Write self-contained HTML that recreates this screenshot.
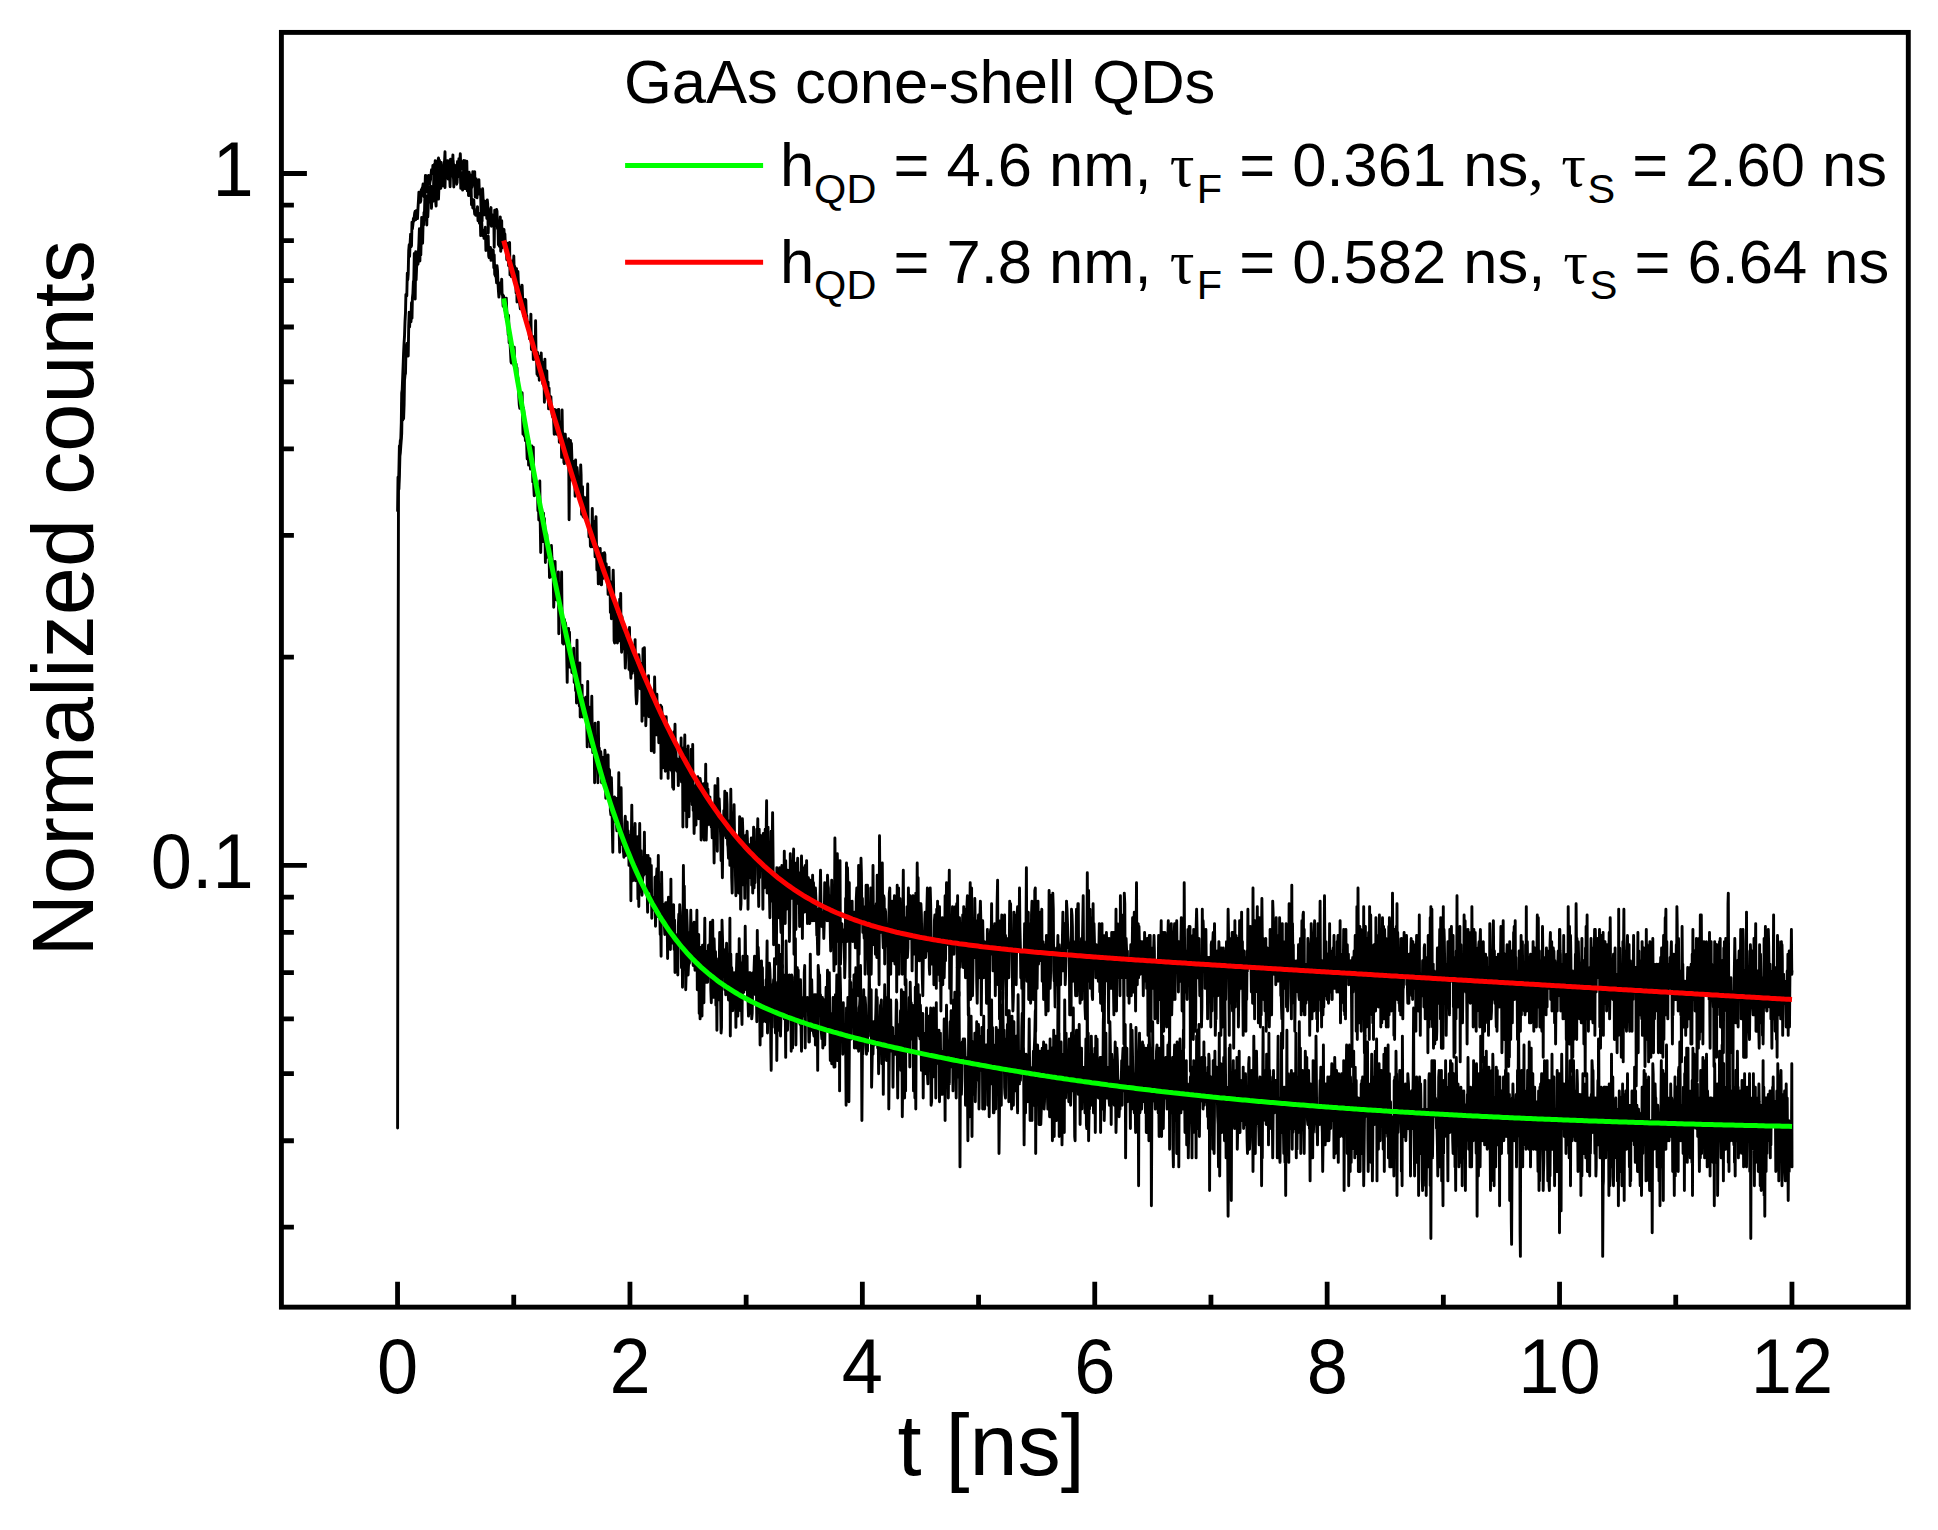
<!DOCTYPE html>
<html lang="en"><head><meta charset="utf-8"><title>GaAs cone-shell QDs decay</title>
<style>html,body{margin:0;padding:0;background:#fff}svg{display:block}text{font-family:"Liberation Sans",Arial,sans-serif;fill:#000}.ser{font-family:"Liberation Serif","Times New Roman",serif}</style></head><body>
<svg width="1938" height="1530" viewBox="0 0 1938 1530">
<rect width="1938" height="1530" fill="#fff"/>
<path d="M397.6,510.7 398.0,477.2 398.5,479.2 398.9,489.3 399.4,475.9 399.9,456.1 400.3,453.1 400.8,445.8 401.3,439.4 401.7,433.6 402.2,402.7 402.7,420.2 403.1,407.9 403.6,418.6 404.1,404.8 404.5,380.3 405.0,375.1 405.5,373.3 405.9,353.4 406.4,345.2 406.8,343.5 407.3,343.5 407.8,343.5 408.2,356.0 408.7,326.6 409.2,312.1 409.6,327.0 410.1,316.0 410.6,317.5 411.0,321.8 411.5,302.8 412.0,318.3 412.4,298.0 412.9,293.3 413.4,281.4 413.8,281.4 414.3,253.4 414.7,271.2 415.2,299.1 415.7,251.6 416.1,280.0 416.6,267.6 417.1,262.0 417.5,255.0 418.0,264.3 418.5,250.9 418.9,243.3 419.4,228.8 419.9,261.1 420.3,236.7 420.8,255.0 421.3,234.9 421.7,217.4 422.2,221.1 422.6,243.3 423.1,222.5 423.6,225.0 424.0,212.5 424.5,211.6 425.0,192.1 425.4,204.4 425.9,209.2 426.4,211.9 426.8,225.0 427.3,196.0 427.8,216.9 428.2,207.6 428.7,186.8 429.2,200.1 429.6,197.3 430.1,202.0 430.6,196.7 431.0,186.3 431.5,208.4 431.9,195.2 432.4,190.3 432.9,201.4 433.3,199.6 433.8,173.7 434.3,192.1 434.7,191.6 435.2,184.5 435.7,202.2 436.1,206.0 436.6,164.7 437.1,178.8 437.5,172.1 438.0,179.1 438.5,199.1 438.9,188.0 439.4,169.4 439.8,181.5 440.3,188.5 440.8,188.3 441.2,175.7 441.7,173.5 442.2,183.0 442.6,185.8 443.1,177.4 443.6,172.5 444.0,181.5 444.5,183.3 445.0,187.5 445.4,173.0 445.9,171.8 446.4,168.0 446.8,175.2 447.3,168.3 447.7,176.9 448.2,179.1 448.7,161.0 449.1,175.2 449.6,175.2 450.1,186.8 450.5,173.0 451.0,162.4 451.5,173.3 451.9,161.7 452.4,164.3 452.9,160.6 453.3,171.3 453.8,187.0 454.3,173.7 454.7,174.7 455.2,172.1 455.7,179.6 456.1,168.5 456.6,170.9 457.0,183.0 457.5,161.5 458.0,168.0 458.4,176.6 458.9,158.7 459.4,170.2 459.8,161.7 460.3,153.7 460.8,168.0 461.2,166.6 461.7,169.0 462.2,166.8 462.6,168.7 463.1,161.5 463.6,160.6 464.0,172.8 464.5,188.5 464.9,160.8 465.4,167.3 465.9,168.0 466.3,164.5 466.8,161.3 467.3,187.8 467.7,187.3 468.2,177.4 468.7,195.4 469.1,172.3 469.6,174.7 470.1,183.3 470.5,175.9 471.0,188.5 471.5,174.9 471.9,187.0 472.4,183.0 472.8,171.8 473.3,175.4 473.8,181.0 474.2,178.8 474.7,171.6 475.2,197.0 475.6,196.2 476.1,178.8 476.6,183.5 477.0,197.8 477.5,189.3 478.0,191.1 478.4,182.3 478.9,179.6 479.4,194.1 479.8,189.3 480.3,191.6 480.7,195.7 481.2,218.3 481.7,192.6 482.1,221.1 482.6,188.8 483.1,198.6 483.5,208.7 484.0,211.4 484.5,214.9 484.9,201.2 485.4,214.9 485.9,210.0 486.3,206.0 486.8,218.5 487.3,199.9 487.7,203.6 488.2,233.1 488.7,214.4 489.1,214.4 489.6,223.9 490.0,216.9 490.5,209.5 491.0,207.6 491.4,226.2 491.9,215.5 492.4,214.9 492.8,218.0 493.3,215.2 493.8,217.4 494.2,247.2 494.7,210.3 495.2,226.5 495.6,225.6 496.1,213.0 496.6,209.5 497.0,211.1 497.5,228.8 497.9,221.3 498.4,244.8 498.9,235.5 499.3,246.3 499.8,227.6 500.3,216.9 500.7,251.3 501.2,246.6 501.7,220.8 502.1,247.9 502.6,235.5 503.1,240.6 503.5,229.3 504.0,229.6 504.5,244.5 504.9,234.0 505.4,246.0 505.8,243.0 506.3,247.2 506.8,259.8 507.2,243.3 507.7,246.0 508.2,244.8 508.6,265.6 509.1,255.0 509.6,242.4 510.0,274.9 510.5,274.9 511.0,265.6 511.4,276.6 511.9,261.1 512.4,270.5 512.8,274.2 513.3,268.2 513.8,256.0 514.2,270.9 514.7,266.3 515.1,270.5 515.6,275.9 516.1,292.9 516.5,268.6 517.0,302.0 517.5,299.5 517.9,271.5 518.4,283.4 518.9,284.5 519.3,299.5 519.8,304.6 520.3,308.7 520.7,287.3 521.2,298.0 521.7,291.9 522.1,285.2 522.6,297.3 523.0,302.4 523.5,315.6 524.0,301.3 524.4,299.8 524.9,301.7 525.4,299.5 525.8,300.2 526.3,315.6 526.8,315.6 527.2,326.2 527.7,323.8 528.2,323.8 528.6,322.6 529.1,333.5 529.6,338.8 530.0,329.8 530.5,327.4 530.9,314.1 531.4,349.5 531.9,336.8 532.3,343.0 532.8,336.4 533.3,359.5 533.7,357.3 534.2,343.5 534.7,345.2 535.1,358.7 535.6,320.7 536.1,360.4 536.5,356.0 537.0,374.2 537.5,352.5 537.9,375.6 538.4,356.0 538.8,369.5 539.3,380.3 539.8,361.8 540.2,372.8 540.7,362.7 541.2,352.9 541.6,365.0 542.1,361.8 542.6,382.7 543.0,384.2 543.5,385.2 544.0,374.2 544.4,402.2 544.9,359.1 545.4,388.6 545.8,391.1 546.3,394.0 546.8,370.9 547.2,386.1 547.7,382.3 548.1,382.3 548.6,408.9 549.1,388.1 549.5,407.9 550.0,401.1 550.5,407.4 550.9,396.6 551.4,410.5 551.9,411.0 552.3,415.3 552.8,417.5 553.3,411.0 553.7,421.8 554.2,434.2 554.7,409.5 555.1,412.6 555.6,420.7 556.0,416.9 556.5,434.2 557.0,423.5 557.4,410.0 557.9,425.2 558.4,434.7 558.8,409.5 559.3,442.3 559.8,428.5 560.2,424.6 560.7,423.5 561.2,421.8 561.6,457.4 562.1,410.0 562.6,444.1 563.0,433.0 563.5,443.5 563.9,462.4 564.4,463.6 564.9,435.3 565.3,434.2 565.8,444.1 566.3,452.5 566.7,447.0 567.2,453.7 567.7,456.1 568.1,443.5 568.6,438.8 569.1,519.7 569.5,476.5 570.0,471.3 570.5,440.5 570.9,479.2 571.4,443.5 571.9,458.6 572.3,475.9 572.8,473.2 573.2,481.8 573.7,477.2 574.2,473.9 574.6,461.1 575.1,496.3 575.6,459.9 576.0,485.9 576.5,476.5 577.0,467.4 577.4,471.3 577.9,486.6 578.4,481.2 578.8,494.2 579.3,479.2 579.8,493.5 580.2,492.1 580.7,464.9 581.1,474.5 581.6,514.4 582.1,510.7 582.5,486.6 583.0,516.6 583.5,497.0 583.9,517.4 584.4,504.8 584.9,507.0 585.3,497.7 585.8,512.9 586.3,500.5 586.7,497.7 587.2,512.9 587.7,483.9 588.1,522.0 588.6,524.3 589.0,536.9 589.5,530.5 590.0,528.9 590.4,545.9 590.9,546.7 591.4,536.1 591.8,536.9 592.3,508.5 592.8,546.7 593.2,521.2 593.7,528.2 594.2,539.3 594.6,543.4 595.1,556.9 595.6,524.3 596.0,516.6 596.5,545.9 596.9,570.1 597.4,546.7 597.9,560.3 598.3,583.9 598.8,571.9 599.3,563.8 599.7,568.3 600.2,548.4 600.7,571.9 601.1,584.8 601.6,584.8 602.1,556.0 602.5,562.1 603.0,553.4 603.5,578.3 603.9,556.9 604.4,552.6 604.9,554.3 605.3,573.7 605.8,567.4 606.2,563.8 606.7,580.1 607.2,570.1 607.6,575.5 608.1,594.4 608.6,592.5 609.0,567.4 609.5,586.7 610.0,581.1 610.4,612.5 610.9,590.5 611.4,618.8 611.8,604.3 612.3,608.4 612.8,585.8 613.2,570.1 613.7,591.5 614.1,640.7 614.6,643.0 615.1,606.4 615.5,632.9 616.0,625.2 616.5,613.6 616.9,614.6 617.4,643.0 617.9,627.4 618.3,622.0 618.8,630.7 619.3,640.7 619.7,599.3 620.2,620.9 620.7,593.4 621.1,635.1 621.6,652.3 622.0,616.7 622.5,629.6 623.0,648.8 623.4,645.3 623.9,624.1 624.4,632.9 624.8,650.0 625.3,668.1 625.8,657.1 626.2,638.5 626.7,652.3 627.2,648.8 627.6,634.0 628.1,634.0 628.6,637.3 629.0,669.4 629.5,627.4 630.0,670.6 630.4,668.1 630.9,678.3 631.3,654.7 631.8,662.0 632.3,673.2 632.7,647.7 633.2,645.3 633.7,665.7 634.1,670.6 634.6,665.7 635.1,639.6 635.5,674.4 636.0,695.5 636.5,703.8 636.9,701.0 637.4,686.1 637.9,677.0 638.3,664.4 638.8,654.7 639.2,658.3 639.7,669.4 640.2,688.8 640.6,664.4 641.1,686.1 641.6,663.2 642.0,721.2 642.5,698.3 643.0,648.8 643.4,675.7 643.9,715.3 644.4,647.7 644.8,682.2 645.3,679.6 645.8,725.7 646.2,710.9 646.7,712.4 647.1,703.8 647.6,691.5 648.1,698.3 648.5,675.7 649.0,716.7 649.5,703.8 649.9,688.8 650.4,708.1 650.9,694.2 651.3,750.9 651.8,712.4 652.3,725.7 652.7,721.2 653.2,699.7 653.7,708.1 654.1,752.5 654.6,677.0 655.0,696.9 655.5,730.2 656.0,706.7 656.4,734.9 656.9,694.2 657.4,722.7 657.8,725.7 658.3,721.2 658.8,742.8 659.2,713.8 659.7,741.2 660.2,710.9 660.6,705.2 661.1,778.4 661.6,706.7 662.0,712.4 662.5,744.4 663.0,767.7 663.4,747.6 663.9,741.2 664.3,725.7 664.8,716.7 665.3,771.2 665.7,738.0 666.2,716.7 666.7,736.4 667.1,734.9 667.6,730.2 668.1,778.4 668.5,736.4 669.0,754.2 669.5,731.8 669.9,747.6 670.4,769.5 670.9,731.8 671.3,752.5 671.8,771.2 672.2,755.8 672.7,787.5 673.2,744.4 673.6,789.3 674.1,731.8 674.6,754.2 675.0,724.2 675.5,757.5 676.0,752.5 676.4,769.5 676.9,771.2 677.4,767.7 677.8,759.2 678.3,785.6 678.8,771.2 679.2,778.4 679.7,766.0 680.1,750.9 680.6,767.7 681.1,738.0 681.5,782.0 682.0,778.4 682.5,749.2 682.9,827.1 683.4,752.5 683.9,747.6 684.3,762.6 684.8,734.9 685.3,810.6 685.7,774.8 686.2,749.2 686.7,827.1 687.1,795.0 687.6,780.2 688.1,746.0 688.5,800.8 689.0,816.7 689.4,780.2 689.9,769.5 690.4,774.8 690.8,800.8 691.3,749.2 691.8,767.7 692.2,804.7 692.7,744.4 693.2,810.6 693.6,795.0 694.1,833.5 694.6,812.6 695.0,791.2 695.5,785.6 696.0,825.0 696.4,778.4 696.9,778.4 697.3,789.3 697.8,776.6 698.3,785.6 698.7,818.7 699.2,789.3 699.7,812.6 700.1,778.4 700.6,782.0 701.1,840.1 701.5,831.3 702.0,798.8 702.5,789.3 702.9,835.7 703.4,783.8 703.9,835.7 704.3,840.1 704.8,829.2 705.2,812.6 705.7,764.3 706.2,840.1 706.6,822.9 707.1,783.8 707.6,825.0 708.0,789.3 708.5,818.7 709.0,810.6 709.4,812.6 709.9,796.9 710.4,825.0 710.8,802.7 711.3,827.1 711.8,825.0 712.2,837.9 712.7,806.6 713.1,822.9 713.6,818.7 714.1,863.0 714.5,827.1 715.0,785.6 715.5,808.6 715.9,840.1 716.4,804.7 716.9,820.8 717.3,851.3 717.8,778.4 718.3,814.6 718.7,808.6 719.2,798.8 719.7,812.6 720.1,818.7 720.6,835.7 721.1,860.6 721.5,818.7 722.0,849.0 722.4,877.7 722.9,827.1 723.4,835.7 723.8,810.6 724.3,827.1 724.8,791.2 725.2,825.0 725.7,829.2 726.2,837.9 726.6,793.1 727.1,804.7 727.6,844.5 728.0,846.8 728.5,858.3 729.0,840.1 729.4,820.8 729.9,865.4 730.3,863.0 730.8,789.3 731.3,831.3 731.7,877.7 732.2,893.1 732.7,842.3 733.1,812.6 733.6,851.3 734.1,804.7 734.5,835.7 735.0,837.9 735.5,877.7 735.9,895.7 736.4,837.9 736.9,865.4 737.3,877.7 737.8,853.6 738.2,840.1 738.7,893.1 739.2,865.4 739.6,816.7 740.1,818.7 740.6,909.3 741.0,903.8 741.5,833.5 742.0,865.4 742.4,818.7 742.9,833.5 743.4,849.0 743.8,885.3 744.3,844.5 744.8,898.4 745.2,835.7 745.7,872.7 746.2,842.3 746.6,840.1 747.1,831.3 747.5,842.3 748.0,909.3 748.5,858.3 748.9,860.6 749.4,855.9 749.9,844.5 750.3,863.0 750.8,877.7 751.3,837.9 751.7,885.3 752.2,840.1 752.7,893.1 753.1,882.7 753.6,827.1 754.1,887.9 754.5,858.3 755.0,882.7 755.4,853.6 755.9,842.3 756.4,858.3 756.8,829.2 757.3,840.1 757.8,818.7 758.2,875.2 758.7,906.6 759.2,829.2 759.6,877.7 760.1,837.9 760.6,858.3 761.0,835.7 761.5,858.3 762.0,853.6 762.4,846.8 762.9,909.3 763.3,833.5 763.8,870.2 764.3,887.9 764.7,882.7 765.2,829.2 765.7,855.9 766.1,837.9 766.6,800.8 767.1,893.1 767.5,863.0 768.0,827.1 768.5,872.7 768.9,855.9 769.4,890.5 769.9,917.8 770.3,877.7 770.8,863.0 771.2,831.3 771.7,901.1 772.2,849.0 772.6,812.6 773.1,860.6 773.6,944.7 774.0,877.7 774.5,906.6 775.0,914.9 775.4,882.7 775.9,887.9 776.4,964.1 776.8,867.8 777.3,885.3 777.8,890.5 778.2,893.1 778.7,914.9 779.2,917.8 779.6,867.8 780.1,914.9 780.5,917.8 781.0,932.5 781.5,880.2 781.9,865.4 782.4,967.5 782.9,880.2 783.3,877.7 783.8,909.3 784.3,851.3 784.7,895.7 785.2,923.6 785.7,860.6 786.1,890.5 786.6,909.3 787.1,906.6 787.5,870.2 788.0,895.7 788.4,875.2 788.9,872.7 789.4,941.6 789.8,914.9 790.3,853.6 790.8,898.4 791.2,887.9 791.7,882.7 792.2,865.4 792.6,898.4 793.1,867.8 793.6,849.0 794.0,954.3 794.5,932.5 795.0,890.5 795.4,909.3 795.9,929.5 796.3,863.0 796.8,903.8 797.3,865.4 797.7,858.3 798.2,898.4 798.7,890.5 799.1,872.7 799.6,926.5 800.1,893.1 800.5,890.5 801.0,898.4 801.5,855.9 801.9,875.2 802.4,938.5 802.9,867.8 803.3,901.1 803.8,895.7 804.3,901.1 804.7,912.1 805.2,865.4 805.6,901.1 806.1,890.5 806.6,860.6 807.0,895.7 807.5,923.6 808.0,887.9 808.4,877.7 808.9,890.5 809.4,923.6 809.8,923.6 810.3,880.2 810.8,890.5 811.2,887.9 811.7,885.3 812.2,920.7 812.6,875.2 813.1,906.6 813.5,882.7 814.0,920.7 814.5,909.3 814.9,914.9 815.4,887.9 815.9,898.4 816.3,912.1 816.8,935.5 817.3,935.5 817.7,954.3 818.2,909.3 818.7,954.3 819.1,929.5 819.6,914.9 820.1,893.1 820.5,870.2 821.0,903.8 821.4,912.1 821.9,926.5 822.4,920.7 822.8,920.7 823.3,912.1 823.8,938.5 824.2,923.6 824.7,882.7 825.2,893.1 825.6,903.8 826.1,906.6 826.6,906.6 827.0,920.7 827.5,875.2 828.0,885.3 828.4,887.9 828.9,920.7 829.3,909.3 829.8,895.7 830.3,932.5 830.7,951.0 831.2,920.7 831.7,880.2 832.1,941.6 832.6,932.5 833.1,923.6 833.5,935.5 834.0,970.9 834.5,909.3 834.9,837.9 835.4,885.3 835.9,964.1 836.3,909.3 836.8,880.2 837.3,853.6 837.7,875.2 838.2,938.5 838.6,941.6 839.1,895.7 839.6,938.5 840.0,860.6 840.5,964.1 841.0,947.9 841.4,935.5 841.9,923.6 842.4,938.5 842.8,929.5 843.3,941.6 843.8,941.6 844.2,932.5 844.7,977.8 845.2,957.5 845.6,898.4 846.1,920.7 846.5,863.0 847.0,941.6 847.5,867.8 847.9,887.9 848.4,903.8 848.9,917.8 849.3,882.7 849.8,977.8 850.3,901.1 850.7,926.5 851.2,917.8 851.7,932.5 852.1,901.1 852.6,941.6 853.1,917.8 853.5,912.1 854.0,923.6 854.4,912.1 854.9,929.5 855.4,947.9 855.8,935.5 856.3,898.4 856.8,887.9 857.2,947.9 857.7,938.5 858.2,995.8 858.6,865.4 859.1,954.3 859.6,912.1 860.0,909.3 860.5,901.1 861.0,858.3 861.4,872.7 861.9,923.6 862.4,898.4 862.8,932.5 863.3,917.8 863.7,929.5 864.2,938.5 864.7,906.6 865.1,974.3 865.6,941.6 866.1,885.3 866.5,954.3 867.0,923.6 867.5,885.3 867.9,926.5 868.4,974.3 868.9,935.5 869.3,935.5 869.8,929.5 870.3,932.5 870.7,887.9 871.2,974.3 871.6,938.5 872.1,909.3 872.6,944.7 873.0,865.4 873.5,938.5 874.0,944.7 874.4,912.1 874.9,906.6 875.4,954.3 875.8,951.0 876.3,903.8 876.8,957.5 877.2,875.2 877.7,935.5 878.2,893.1 878.6,923.6 879.1,984.8 879.5,835.7 880.0,898.4 880.5,932.5 880.9,923.6 881.4,885.3 881.9,920.7 882.3,863.0 882.8,935.5 883.3,947.9 883.7,895.7 884.2,898.4 884.7,964.1 885.1,909.3 885.6,912.1 886.1,932.5 886.5,926.5 887.0,932.5 887.4,944.7 887.9,947.9 888.4,1018.9 888.8,923.6 889.3,893.1 889.8,887.9 890.2,938.5 890.7,974.3 891.2,906.6 891.6,903.8 892.1,901.1 892.6,951.0 893.0,960.8 893.5,903.8 894.0,914.9 894.4,895.7 894.9,964.1 895.4,901.1 895.8,947.9 896.3,903.8 896.7,992.1 897.2,885.3 897.7,964.1 898.1,941.6 898.6,887.9 899.1,974.3 899.5,914.9 900.0,898.4 900.5,941.6 900.9,906.6 901.4,938.5 901.9,909.3 902.3,974.3 902.8,917.8 903.3,870.2 903.7,929.5 904.2,944.7 904.6,917.8 905.1,984.8 905.6,944.7 906.0,932.5 906.5,951.0 907.0,906.6 907.4,957.5 907.9,947.9 908.4,887.9 908.8,917.8 909.3,917.8 909.8,938.5 910.2,895.7 910.7,912.1 911.2,917.8 911.6,914.9 912.1,970.9 912.5,935.5 913.0,895.7 913.5,954.3 913.9,914.9 914.4,917.8 914.9,944.7 915.3,954.3 915.8,893.1 916.3,988.4 916.7,944.7 917.2,863.0 917.7,926.5 918.1,877.7 918.6,941.6 919.1,960.8 919.5,960.8 920.0,903.8 920.4,941.6 920.9,903.8 921.4,914.9 921.8,941.6 922.3,977.8 922.8,995.8 923.2,964.1 923.7,935.5 924.2,954.3 924.6,926.5 925.1,912.1 925.6,957.5 926.0,951.0 926.5,923.6 927.0,903.8 927.4,887.9 927.9,926.5 928.4,951.0 928.8,901.1 929.3,967.5 929.7,974.3 930.2,887.9 930.7,906.6 931.1,938.5 931.6,964.1 932.1,947.9 932.5,951.0 933.0,954.3 933.5,941.6 933.9,984.8 934.4,920.7 934.9,914.9 935.3,941.6 935.8,914.9 936.3,988.4 936.7,909.3 937.2,917.8 937.6,901.1 938.1,974.3 938.6,929.5 939.0,967.5 939.5,906.6 940.0,981.3 940.4,947.9 940.9,1011.0 941.4,938.5 941.8,967.5 942.3,917.8 942.8,984.8 943.2,932.5 943.7,920.7 944.2,977.8 944.6,957.5 945.1,895.7 945.5,960.8 946.0,926.5 946.5,882.7 946.9,932.5 947.4,895.7 947.9,912.1 948.3,944.7 948.8,906.6 949.3,870.2 949.7,988.4 950.2,960.8 950.7,964.1 951.1,1003.3 951.6,938.5 952.1,929.5 952.5,906.6 953.0,914.9 953.5,920.7 953.9,954.3 954.4,929.5 954.8,914.9 955.3,906.6 955.8,926.5 956.2,914.9 956.7,903.8 957.2,967.5 957.6,895.7 958.1,988.4 958.6,935.5 959.0,995.8 959.5,917.8 960.0,967.5 960.4,957.5 960.9,944.7 961.4,923.6 961.8,923.6 962.3,929.5 962.7,914.9 963.2,967.5 963.7,906.6 964.1,941.6 964.6,957.5 965.1,957.5 965.5,977.8 966.0,909.3 966.5,964.1 966.9,906.6 967.4,895.7 967.9,974.3 968.3,1014.9 968.8,951.0 969.3,903.8 969.7,920.7 970.2,882.7 970.6,999.5 971.1,898.4 971.6,887.9 972.0,960.8 972.5,995.8 973.0,967.5 973.4,938.5 973.9,941.6 974.4,957.5 974.8,898.4 975.3,929.5 975.8,929.5 976.2,920.7 976.7,981.3 977.2,1003.3 977.6,970.9 978.1,951.0 978.5,914.9 979.0,977.8 979.5,932.5 979.9,917.8 980.4,901.1 980.9,923.6 981.3,1014.9 981.8,957.5 982.3,920.7 982.7,920.7 983.2,947.9 983.7,977.8 984.1,947.9 984.6,941.6 985.1,974.3 985.5,944.7 986.0,954.3 986.5,1003.3 986.9,977.8 987.4,929.5 987.8,951.0 988.3,938.5 988.8,967.5 989.2,1061.9 989.7,941.6 990.2,935.5 990.6,929.5 991.1,947.9 991.6,903.8 992.0,954.3 992.5,926.5 993.0,970.9 993.4,954.3 993.9,947.9 994.4,941.6 994.8,923.6 995.3,995.8 995.7,951.0 996.2,967.5 996.7,944.7 997.1,903.8 997.6,880.2 998.1,984.8 998.5,964.1 999.0,920.7 999.5,1018.9 999.9,923.6 1000.4,988.4 1000.9,935.5 1001.3,932.5 1001.8,914.9 1002.3,960.8 1002.7,999.5 1003.2,977.8 1003.6,941.6 1004.1,957.5 1004.6,914.9 1005.0,977.8 1005.5,935.5 1006.0,967.5 1006.4,1014.9 1006.9,938.5 1007.4,941.6 1007.8,977.8 1008.3,951.0 1008.8,977.8 1009.2,951.0 1009.7,901.1 1010.2,929.5 1010.6,903.8 1011.1,951.0 1011.6,947.9 1012.0,941.6 1012.5,988.4 1012.9,1011.0 1013.4,995.8 1013.9,912.1 1014.3,974.3 1014.8,977.8 1015.3,914.9 1015.7,929.5 1016.2,984.8 1016.7,935.5 1017.1,914.9 1017.6,906.6 1018.1,926.5 1018.5,909.3 1019.0,951.0 1019.5,887.9 1019.9,926.5 1020.4,947.9 1020.8,977.8 1021.3,957.5 1021.8,988.4 1022.2,974.3 1022.7,951.0 1023.2,1066.6 1023.6,1018.9 1024.1,964.1 1024.6,923.6 1025.0,944.7 1025.5,944.7 1026.0,929.5 1026.4,867.8 1026.9,981.3 1027.4,920.7 1027.8,917.8 1028.3,912.1 1028.7,999.5 1029.2,932.5 1029.7,999.5 1030.1,923.6 1030.6,1003.3 1031.1,992.1 1031.5,914.9 1032.0,901.1 1032.5,938.5 1032.9,981.3 1033.4,999.5 1033.9,984.8 1034.3,967.5 1034.8,890.5 1035.3,887.9 1035.7,1031.2 1036.2,920.7 1036.6,970.9 1037.1,988.4 1037.6,947.9 1038.0,901.1 1038.5,964.1 1039.0,944.7 1039.4,926.5 1039.9,917.8 1040.4,912.1 1040.8,960.8 1041.3,929.5 1041.8,909.3 1042.2,981.3 1042.7,954.3 1043.1,941.6 1043.6,999.5 1044.1,967.5 1044.5,974.3 1045.0,944.7 1045.5,992.1 1045.9,1014.9 1046.4,935.5 1046.8,957.5 1047.3,967.5 1047.8,967.5 1048.2,1011.0 1048.7,957.5 1049.1,890.5 1049.6,906.6 1050.1,988.4 1050.5,977.8 1051.0,895.7 1051.4,951.0 1051.9,954.3 1052.4,929.5 1052.8,893.1 1053.3,909.3 1053.7,970.9 1054.2,981.3 1054.7,981.3 1055.1,1007.1 1055.6,960.8 1056.0,984.8 1056.5,947.9 1057.0,984.8 1057.4,957.5 1057.9,935.5 1058.3,981.3 1058.8,1044.0 1059.2,944.7 1059.7,960.8 1060.2,967.5 1060.6,984.8 1061.1,951.0 1061.5,967.5 1062.0,960.8 1062.4,938.5 1062.9,912.1 1063.3,970.9 1063.8,954.3 1064.3,947.9 1064.7,923.6 1065.2,984.8 1065.6,974.3 1066.1,957.5 1066.5,901.1 1067.0,909.3 1067.4,920.7 1067.9,935.5 1068.4,941.6 1068.8,947.9 1069.3,944.7 1069.7,1014.9 1070.2,988.4 1070.6,964.1 1071.1,1014.9 1071.5,909.3 1072.0,914.9 1072.4,926.5 1072.9,981.3 1073.3,951.0 1073.8,964.1 1074.2,964.1 1074.7,941.6 1075.1,974.3 1075.6,995.8 1076.0,947.9 1076.5,909.3 1076.9,995.8 1077.4,917.8 1077.9,903.8 1078.3,903.8 1078.8,988.4 1079.2,954.3 1079.7,984.8 1080.1,1003.3 1080.6,992.1 1081.0,957.5 1081.5,938.5 1081.9,999.5 1082.3,947.9 1082.8,920.7 1083.2,895.7 1083.7,977.8 1084.1,941.6 1084.6,954.3 1085.0,1007.1 1085.5,1018.9 1085.9,1003.3 1086.4,954.3 1086.8,977.8 1087.3,872.7 1087.7,951.0 1088.2,981.3 1088.6,890.5 1089.1,970.9 1089.5,909.3 1090.0,909.3 1090.4,988.4 1090.9,917.8 1091.3,944.7 1091.7,954.3 1092.2,995.8 1092.6,999.5 1093.1,903.8 1093.5,951.0 1094.0,923.6 1094.4,938.5 1094.9,967.5 1095.3,944.7 1095.8,977.8 1096.2,944.7 1096.6,964.1 1097.1,967.5 1097.5,967.5 1098.0,977.8 1098.4,981.3 1098.9,947.9 1099.3,923.6 1099.8,992.1 1100.2,974.3 1100.6,1003.3 1101.1,951.0 1101.5,970.9 1102.0,923.6 1102.4,1011.0 1102.9,984.8 1103.3,935.5 1103.7,964.1 1104.2,1039.6 1104.6,984.8 1105.1,935.5 1105.5,970.9 1105.9,960.8 1106.4,932.5 1106.8,944.7 1107.3,981.3 1107.7,964.1 1108.1,964.1 1108.6,1022.9 1109.0,938.5 1109.5,977.8 1109.9,947.9 1110.3,977.8 1110.8,988.4 1111.2,977.8 1111.7,932.5 1112.1,970.9 1112.5,988.4 1113.0,932.5 1113.4,984.8 1113.9,1014.9 1114.3,932.5 1114.7,992.1 1115.2,967.5 1115.6,970.9 1116.0,909.3 1116.5,1011.0 1116.9,960.8 1117.4,923.6 1117.8,977.8 1118.2,951.0 1118.7,970.9 1119.1,967.5 1119.5,954.3 1120.0,995.8 1120.4,895.7 1120.9,951.0 1121.3,977.8 1121.7,914.9 1122.2,947.9 1122.6,970.9 1123.0,964.1 1123.5,947.9 1123.9,1044.0 1124.3,893.1 1124.8,903.8 1125.2,977.8 1125.6,964.1 1126.1,938.5 1126.5,947.9 1126.9,964.1 1127.4,951.0 1127.8,995.8 1128.2,970.9 1128.7,970.9 1129.1,1003.3 1129.5,977.8 1130.0,970.9 1130.4,960.8 1130.8,944.7 1131.3,995.8 1131.7,964.1 1132.1,957.5 1132.6,917.8 1133.0,992.1 1133.4,970.9 1133.9,926.5 1134.3,912.1 1134.7,967.5 1135.2,970.9 1135.6,1011.0 1136.0,951.0 1136.5,882.7 1136.9,957.5 1137.3,984.8 1137.7,938.5 1138.2,923.6 1138.6,977.8 1139.0,926.5 1139.5,947.9 1139.9,957.5 1140.3,974.3 1140.8,941.6 1141.2,954.3 1141.6,967.5 1142.0,941.6 1142.5,957.5 1142.9,967.5 1143.3,995.8 1143.8,960.8 1144.2,967.5 1144.6,932.5 1145.0,947.9 1145.5,981.3 1145.9,944.7 1146.3,954.3 1146.7,988.4 1147.2,938.5 1147.6,957.5 1148.0,1035.4 1148.5,957.5 1148.9,951.0 1149.3,935.5 1149.7,981.3 1150.2,935.5 1150.6,1031.2 1151.0,1031.2 1151.4,947.9 1151.9,951.0 1152.3,954.3 1152.7,977.8 1153.1,988.4 1153.6,951.0 1154.0,935.5 1154.4,951.0 1154.8,1018.9 1155.3,967.5 1155.7,974.3 1156.1,988.4 1156.5,960.8 1157.0,981.3 1157.4,1007.1 1157.8,1022.9 1158.2,974.3 1158.6,935.5 1159.1,977.8 1159.5,957.5 1159.9,999.5 1160.3,981.3 1160.8,944.7 1161.2,920.7 1161.6,1071.3 1162.0,935.5 1162.5,995.8 1162.9,944.7 1163.3,932.5 1163.7,1031.2 1164.1,984.8 1164.6,941.6 1165.0,932.5 1165.4,984.8 1165.8,960.8 1166.2,981.3 1166.7,1027.0 1167.1,954.3 1167.5,974.3 1167.9,935.5 1168.3,920.7 1168.8,954.3 1169.2,941.6 1169.6,1071.3 1170.0,947.9 1170.4,964.1 1170.9,970.9 1171.3,923.6 1171.7,1014.9 1172.1,995.8 1172.5,999.5 1172.9,977.8 1173.4,999.5 1173.8,977.8 1174.2,932.5 1174.6,923.6 1175.0,999.5 1175.5,926.5 1175.9,951.0 1176.3,938.5 1176.7,920.7 1177.1,951.0 1177.5,967.5 1178.0,967.5 1178.4,992.1 1178.8,941.6 1179.2,970.9 1179.6,964.1 1180.0,981.3 1180.5,954.3 1180.9,941.6 1181.3,917.8 1181.7,947.9 1182.1,1011.0 1182.5,951.0 1182.9,967.5 1183.4,932.5 1183.8,1048.3 1184.2,882.7 1184.6,947.9 1185.0,970.9 1185.4,951.0 1185.8,981.3 1186.3,992.1 1186.7,974.3 1187.1,999.5 1187.5,964.1 1187.9,929.5 1188.3,954.3 1188.7,947.9 1189.1,926.5 1189.6,947.9 1190.0,926.5 1190.4,1071.3 1190.8,951.0 1191.2,977.8 1191.6,970.9 1192.0,960.8 1192.4,967.5 1192.9,935.5 1193.3,1039.6 1193.7,929.5 1194.1,951.0 1194.5,964.1 1194.9,1027.0 1195.3,1031.2 1195.7,1018.9 1196.1,929.5 1196.6,909.3 1197.0,926.5 1197.4,951.0 1197.8,977.8 1198.2,951.0 1198.6,951.0 1199.0,938.5 1199.4,970.9 1199.8,995.8 1200.2,984.8 1200.6,970.9 1201.1,970.9 1201.5,1027.0 1201.9,1007.1 1202.3,909.3 1202.7,960.8 1203.1,920.7 1203.5,932.5 1203.9,960.8 1204.3,964.1 1204.7,941.6 1205.1,988.4 1205.5,967.5 1205.9,929.5 1206.4,977.8 1206.8,964.1 1207.2,970.9 1207.6,1018.9 1208.0,957.5 1208.4,964.1 1208.8,984.8 1209.2,970.9 1209.6,957.5 1210.0,967.5 1210.4,974.3 1210.8,1027.0 1211.2,944.7 1211.6,941.6 1212.0,1011.0 1212.4,967.5 1212.8,941.6 1213.2,932.5 1213.7,995.8 1214.1,974.3 1214.5,923.6 1214.9,951.0 1215.3,1035.4 1215.7,1018.9 1216.1,1018.9 1216.5,954.3 1216.9,967.5 1217.3,951.0 1217.7,995.8 1218.1,960.8 1218.5,960.8 1218.9,941.6 1219.3,954.3 1219.7,970.9 1220.1,995.8 1220.5,988.4 1220.9,1035.4 1221.3,947.9 1221.7,1003.3 1222.1,988.4 1222.5,951.0 1222.9,1027.0 1223.3,947.9 1223.7,999.5 1224.1,1003.3 1224.5,951.0 1224.9,967.5 1225.3,974.3 1225.7,999.5 1226.1,960.8 1226.5,941.6 1226.9,974.3 1227.3,947.9 1227.7,957.5 1228.1,909.3 1228.5,932.5 1228.9,988.4 1229.3,1035.4 1229.7,938.5 1230.1,1003.3 1230.5,951.0 1230.9,981.3 1231.3,988.4 1231.7,977.8 1232.1,932.5 1232.5,1011.0 1232.9,957.5 1233.3,932.5 1233.7,1048.3 1234.1,988.4 1234.5,981.3 1234.9,920.7 1235.3,1007.1 1235.7,947.9 1236.1,935.5 1236.5,974.3 1236.9,992.1 1237.3,970.9 1237.7,938.5 1238.0,960.8 1238.4,1027.0 1238.8,992.1 1239.2,988.4 1239.6,920.7 1240.0,941.6 1240.4,988.4 1240.8,974.3 1241.2,974.3 1241.6,912.1 1242.0,984.8 1242.4,941.6 1242.8,988.4 1243.2,1035.4 1243.6,981.3 1244.0,951.0 1244.4,1018.9 1244.8,1027.0 1245.2,964.1 1245.5,988.4 1245.9,1031.2 1246.3,957.5 1246.7,999.5 1247.1,951.0 1247.5,970.9 1247.9,909.3 1248.3,967.5 1248.7,935.5 1249.1,957.5 1249.5,954.3 1249.9,954.3 1250.3,926.5 1250.6,951.0 1251.0,960.8 1251.4,992.1 1251.8,977.8 1252.2,926.5 1252.6,1003.3 1253.0,887.9 1253.4,970.9 1253.8,967.5 1254.2,941.6 1254.6,1018.9 1254.9,920.7 1255.3,992.1 1255.7,984.8 1256.1,977.8 1256.5,970.9 1256.9,938.5 1257.3,906.6 1257.7,992.1 1258.1,944.7 1258.4,1022.9 1258.8,941.6 1259.2,917.8 1259.6,929.5 1260.0,926.5 1260.4,1027.0 1260.8,960.8 1261.2,1014.9 1261.6,929.5 1261.9,898.4 1262.3,938.5 1262.7,977.8 1263.1,938.5 1263.5,999.5 1263.9,960.8 1264.3,960.8 1264.7,981.3 1265.0,1011.0 1265.4,954.3 1265.8,938.5 1266.2,1031.2 1266.6,995.8 1267.0,957.5 1267.4,947.9 1267.7,999.5 1268.1,957.5 1268.5,1018.9 1268.9,967.5 1269.3,1027.0 1269.7,1003.3 1270.1,929.5 1270.4,947.9 1270.8,1011.0 1271.2,935.5 1271.6,1014.9 1272.0,951.0 1272.4,970.9 1272.7,901.1 1273.1,912.1 1273.5,932.5 1273.9,974.3 1274.3,947.9 1274.7,974.3 1275.0,951.0 1275.4,944.7 1275.8,984.8 1276.2,917.8 1276.6,970.9 1277.0,977.8 1277.3,957.5 1277.7,957.5 1278.1,981.3 1278.5,935.5 1278.9,947.9 1279.3,974.3 1279.6,917.8 1280.0,951.0 1280.4,960.8 1280.8,995.8 1281.2,992.1 1281.5,1007.1 1281.9,1018.9 1282.3,923.6 1282.7,1048.3 1283.1,999.5 1283.4,941.6 1283.8,960.8 1284.2,988.4 1284.6,984.8 1285.0,960.8 1285.3,981.3 1285.7,984.8 1286.1,923.6 1286.5,1007.1 1286.9,992.1 1287.2,977.8 1287.6,1011.0 1288.0,995.8 1288.4,932.5 1288.8,964.1 1289.1,903.8 1289.5,951.0 1289.9,967.5 1290.3,977.8 1290.6,967.5 1291.0,977.8 1291.4,1018.9 1291.8,885.3 1292.2,988.4 1292.5,923.6 1292.9,960.8 1293.3,944.7 1293.7,1003.3 1294.0,999.5 1294.4,960.8 1294.8,1031.2 1295.2,995.8 1295.5,970.9 1295.9,981.3 1296.3,974.3 1296.7,967.5 1297.0,960.8 1297.4,967.5 1297.8,992.1 1298.2,974.3 1298.5,944.7 1298.9,995.8 1299.3,999.5 1299.7,981.3 1300.0,964.1 1300.4,938.5 1300.8,974.3 1301.2,1014.9 1301.5,970.9 1301.9,920.7 1302.3,1011.0 1302.7,974.3 1303.0,914.9 1303.4,912.1 1303.8,988.4 1304.2,929.5 1304.5,1014.9 1304.9,1014.9 1305.3,964.1 1305.7,977.8 1306.0,1003.3 1306.4,988.4 1306.8,967.5 1307.1,964.1 1307.5,984.8 1307.9,938.5 1308.3,944.7 1308.6,999.5 1309.0,944.7 1309.4,984.8 1309.7,1035.4 1310.1,992.1 1310.5,970.9 1310.9,1003.3 1311.2,923.6 1311.6,964.1 1312.0,1018.9 1312.3,951.0 1312.7,941.6 1313.1,995.8 1313.4,964.1 1313.8,1011.0 1314.2,932.5 1314.6,920.7 1314.9,977.8 1315.3,938.5 1315.7,984.8 1316.0,954.3 1316.4,981.3 1316.8,1018.9 1317.1,974.3 1317.5,1031.2 1317.9,923.6 1318.2,938.5 1318.6,999.5 1319.0,935.5 1319.4,941.6 1319.7,960.8 1320.1,901.1 1320.5,974.3 1320.8,1011.0 1321.2,977.8 1321.6,1027.0 1321.9,960.8 1322.3,1007.1 1322.7,977.8 1323.0,1014.9 1323.4,977.8 1323.8,1007.1 1324.1,951.0 1324.5,895.7 1324.9,947.9 1325.2,951.0 1325.6,947.9 1326.0,941.6 1326.3,995.8 1326.7,984.8 1327.1,999.5 1327.4,977.8 1327.8,954.3 1328.1,964.1 1328.5,1003.3 1328.9,974.3 1329.2,977.8 1329.6,923.6 1330.0,992.1 1330.3,960.8 1330.7,992.1 1331.1,951.0 1331.4,960.8 1331.8,999.5 1332.2,999.5 1332.5,954.3 1332.9,967.5 1333.2,947.9 1333.6,970.9 1334.0,935.5 1334.3,988.4 1334.7,967.5 1335.1,981.3 1335.4,984.8 1335.8,970.9 1336.1,957.5 1336.5,977.8 1336.9,992.1 1337.2,941.6 1337.6,947.9 1338.0,935.5 1338.3,992.1 1338.7,947.9 1339.0,974.3 1339.4,984.8 1339.8,984.8 1340.1,920.7 1340.5,1022.9 1340.8,984.8 1341.2,1003.3 1341.6,992.1 1341.9,970.9 1342.3,974.3 1342.6,954.3 1343.0,970.9 1343.4,957.5 1343.7,929.5 1344.1,1011.0 1344.4,932.5 1344.8,1014.9 1345.2,938.5 1345.5,1018.9 1345.9,929.5 1346.2,977.8 1346.6,960.8 1347.0,947.9 1347.3,944.7 1347.7,974.3 1348.0,974.3 1348.4,954.3 1348.7,984.8 1349.1,967.5 1349.5,960.8 1349.8,967.5 1350.2,974.3 1350.5,981.3 1350.9,964.1 1351.2,960.8 1351.6,1007.1 1352.0,1066.6 1352.3,964.1 1352.7,957.5 1353.0,992.1 1353.4,984.8 1353.7,974.3 1354.1,951.0 1354.5,984.8 1354.8,984.8 1355.2,935.5 1355.5,935.5 1355.9,960.8 1356.2,1031.2 1356.6,1003.3 1356.9,906.6 1357.3,1039.6 1357.7,960.8 1358.0,887.9 1358.4,954.3 1358.7,1022.9 1359.1,964.1 1359.4,981.3 1359.8,926.5 1360.1,1022.9 1360.5,967.5 1360.8,929.5 1361.2,1031.2 1361.5,957.5 1361.9,935.5 1362.3,1011.0 1362.6,981.3 1363.0,960.8 1363.3,1014.9 1363.7,906.6 1364.0,995.8 1364.4,1052.8 1364.7,960.8 1365.1,1035.4 1365.4,926.5 1365.8,995.8 1366.1,964.1 1366.5,1027.0 1366.8,951.0 1367.2,977.8 1367.5,938.5 1367.9,964.1 1368.2,960.8 1368.6,932.5 1368.9,995.8 1369.3,1039.6 1369.6,906.6 1370.0,954.3 1370.3,984.8 1370.7,914.9 1371.0,957.5 1371.4,944.7 1371.7,957.5 1372.1,1014.9 1372.4,974.3 1372.8,1022.9 1373.1,960.8 1373.5,1039.6 1373.8,967.5 1374.2,944.7 1374.5,1011.0 1374.9,984.8 1375.2,974.3 1375.6,1011.0 1375.9,917.8 1376.3,954.3 1376.6,992.1 1377.0,947.9 1377.3,992.1 1377.7,941.6 1378.0,935.5 1378.4,1007.1 1378.7,944.7 1379.1,995.8 1379.4,914.9 1379.8,967.5 1380.1,957.5 1380.5,935.5 1380.8,1027.0 1381.2,941.6 1381.5,981.3 1381.8,1022.9 1382.2,957.5 1382.5,917.8 1382.9,970.9 1383.2,1014.9 1383.6,926.5 1383.9,1018.9 1384.3,1007.1 1384.6,929.5 1385.0,944.7 1385.3,992.1 1385.7,951.0 1386.0,938.5 1386.3,1027.0 1386.7,992.1 1387.0,995.8 1387.4,988.4 1387.7,974.3 1388.1,1027.0 1388.4,964.1 1388.8,926.5 1389.1,1014.9 1389.4,917.8 1389.8,938.5 1390.1,1007.1 1390.5,984.8 1390.8,944.7 1391.2,1011.0 1391.5,995.8 1391.8,964.1 1392.2,960.8 1392.5,893.1 1392.9,964.1 1393.2,951.0 1393.6,929.5 1393.9,1035.4 1394.2,929.5 1394.6,1039.6 1394.9,992.1 1395.3,929.5 1395.6,977.8 1396.0,951.0 1396.3,926.5 1396.6,988.4 1397.0,903.8 1397.3,999.5 1397.7,932.5 1398.0,947.9 1398.3,938.5 1398.7,960.8 1399.0,1003.3 1399.4,999.5 1399.7,1011.0 1400.0,957.5 1400.4,970.9 1400.7,1014.9 1401.1,1007.1 1401.4,938.5 1401.7,944.7 1402.1,954.3 1402.4,981.3 1402.8,1018.9 1403.1,984.8 1403.4,988.4 1403.8,960.8 1404.1,932.5 1404.5,974.3 1404.8,970.9 1405.1,960.8 1405.5,957.5 1405.8,951.0 1406.2,974.3 1406.5,935.5 1406.8,984.8 1407.2,960.8 1407.5,992.1 1407.8,1003.3 1408.2,1003.3 1408.5,992.1 1408.9,1003.3 1409.2,954.3 1409.5,984.8 1409.9,977.8 1410.2,974.3 1410.5,984.8 1410.9,947.9 1411.2,938.5 1411.5,977.8 1411.9,995.8 1412.2,960.8 1412.6,999.5 1412.9,941.6 1413.2,970.9 1413.6,977.8 1413.9,951.0 1414.2,944.7 1414.6,951.0 1414.9,988.4 1415.2,964.1 1415.6,974.3 1415.9,1031.2 1416.2,960.8 1416.6,935.5 1416.9,935.5 1417.2,988.4 1417.6,941.6 1417.9,957.5 1418.3,1011.0 1418.6,1007.1 1418.9,988.4 1419.3,914.9 1419.6,992.1 1419.9,974.3 1420.3,1035.4 1420.6,981.3 1420.9,995.8 1421.3,977.8 1421.6,977.8 1421.9,995.8 1422.3,992.1 1422.6,960.8 1422.9,988.4 1423.2,964.1 1423.6,977.8 1423.9,1007.1 1424.2,947.9 1424.6,944.7 1424.9,967.5 1425.2,1018.9 1425.6,984.8 1425.9,1007.1 1426.2,981.3 1426.6,992.1 1426.9,957.5 1427.2,970.9 1427.6,984.8 1427.9,1052.8 1428.2,935.5 1428.6,951.0 1428.9,992.1 1429.2,1027.0 1429.5,981.3 1429.9,992.1 1430.2,917.8 1430.5,1018.9 1430.9,906.6 1431.2,981.3 1431.5,984.8 1431.9,909.3 1432.2,964.1 1432.5,1027.0 1432.8,1014.9 1433.2,964.1 1433.5,1048.3 1433.8,988.4 1434.2,970.9 1434.5,974.3 1434.8,1044.0 1435.1,1022.9 1435.5,1007.1 1435.8,974.3 1436.1,999.5 1436.5,1039.6 1436.8,1031.2 1437.1,977.8 1437.4,947.9 1437.8,947.9 1438.1,967.5 1438.4,960.8 1438.7,1003.3 1439.1,988.4 1439.4,957.5 1439.7,929.5 1440.0,929.5 1440.4,1018.9 1440.7,917.8 1441.0,984.8 1441.4,1048.3 1441.7,1035.4 1442.0,941.6 1442.3,1048.3 1442.7,1011.0 1443.0,1048.3 1443.3,906.6 1443.6,999.5 1444.0,929.5 1444.3,938.5 1444.6,957.5 1444.9,1003.3 1445.3,992.1 1445.6,995.8 1445.9,984.8 1446.2,1035.4 1446.6,995.8 1446.9,964.1 1447.2,967.5 1447.5,974.3 1447.9,941.6 1448.2,954.3 1448.5,992.1 1448.8,981.3 1449.2,999.5 1449.5,1014.9 1449.8,929.5 1450.1,967.5 1450.5,947.9 1450.8,981.3 1451.1,954.3 1451.4,926.5 1451.8,970.9 1452.1,974.3 1452.4,947.9 1452.7,970.9 1453.1,935.5 1453.4,1007.1 1453.7,995.8 1454.0,1057.3 1454.4,992.1 1454.7,981.3 1455.0,1052.8 1455.3,957.5 1455.7,1018.9 1456.0,1018.9 1456.3,951.0 1456.6,1003.3 1457.0,895.7 1457.3,995.8 1457.6,947.9 1458.0,1007.1 1458.3,984.8 1458.6,935.5 1458.9,988.4 1459.3,995.8 1459.6,984.8 1459.9,926.5 1460.2,1061.9 1460.6,957.5 1460.9,944.7 1461.2,977.8 1461.5,964.1 1461.9,967.5 1462.2,1003.3 1462.5,1022.9 1462.8,992.1 1463.2,960.8 1463.5,960.8 1463.8,970.9 1464.1,914.9 1464.5,954.3 1464.8,932.5 1465.1,920.7 1465.4,988.4 1465.8,992.1 1466.1,954.3 1466.4,929.5 1466.7,995.8 1467.1,1044.0 1467.4,995.8 1467.7,944.7 1468.0,929.5 1468.4,964.1 1468.7,957.5 1469.0,974.3 1469.3,932.5 1469.7,938.5 1470.0,995.8 1470.3,1003.3 1470.6,981.3 1471.0,999.5 1471.3,954.3 1471.6,970.9 1471.9,906.6 1472.3,967.5 1472.6,964.1 1472.9,954.3 1473.2,1027.0 1473.6,960.8 1473.9,929.5 1474.2,1022.9 1474.5,938.5 1474.9,967.5 1475.2,932.5 1475.5,960.8 1475.8,1018.9 1476.2,1031.2 1476.5,964.1 1476.8,988.4 1477.1,1011.0 1477.5,974.3 1477.8,957.5 1478.1,947.9 1478.4,995.8 1478.8,944.7 1479.1,941.6 1479.4,951.0 1479.8,1027.0 1480.1,938.5 1480.4,929.5 1480.7,957.5 1481.1,947.9 1481.4,957.5 1481.7,944.7 1482.0,960.8 1482.4,992.1 1482.7,1061.9 1483.0,947.9 1483.3,941.6 1483.7,974.3 1484.0,1011.0 1484.3,1011.0 1484.6,1031.2 1485.0,957.5 1485.3,974.3 1485.6,954.3 1485.9,984.8 1486.3,1014.9 1486.6,957.5 1486.9,1007.1 1487.2,1003.3 1487.6,1022.9 1487.9,970.9 1488.2,970.9 1488.5,1035.4 1488.9,967.5 1489.2,1007.1 1489.5,995.8 1489.8,923.6 1490.2,974.3 1490.5,977.8 1490.8,957.5 1491.1,1018.9 1491.5,1011.0 1491.8,960.8 1492.1,995.8 1492.4,977.8 1492.8,960.8 1493.1,932.5 1493.4,920.7 1493.7,957.5 1494.1,999.5 1494.4,951.0 1494.7,999.5 1495.0,1003.3 1495.4,970.9 1495.7,974.3 1496.0,1014.9 1496.3,1027.0 1496.7,957.5 1497.0,1031.2 1497.3,1003.3 1497.6,984.8 1498.0,981.3 1498.3,954.3 1498.6,984.8 1498.9,964.1 1499.3,1007.1 1499.6,977.8 1499.9,960.8 1500.2,988.4 1500.6,951.0 1500.9,926.5 1501.2,981.3 1501.5,960.8 1501.9,1052.8 1502.2,1031.2 1502.5,974.3 1502.9,941.6 1503.2,920.7 1503.5,999.5 1503.8,957.5 1504.2,1039.6 1504.5,1003.3 1504.8,954.3 1505.1,977.8 1505.5,995.8 1505.8,957.5 1506.1,1076.1 1506.4,995.8 1506.8,954.3 1507.1,944.7 1507.4,1003.3 1507.7,970.9 1508.1,992.1 1508.4,1014.9 1508.7,1066.6 1509.0,1022.9 1509.4,1057.3 1509.7,941.6 1510.0,964.1 1510.3,974.3 1510.7,1039.6 1511.0,984.8 1511.3,1014.9 1511.6,984.8 1512.0,951.0 1512.3,1022.9 1512.6,981.3 1512.9,992.1 1513.3,977.8 1513.6,932.5 1513.9,947.9 1514.2,926.5 1514.6,999.5 1514.9,984.8 1515.2,920.7 1515.5,977.8 1515.9,957.5 1516.2,988.4 1516.5,988.4 1516.8,988.4 1517.2,995.8 1517.5,1039.6 1517.8,1035.4 1518.1,970.9 1518.5,988.4 1518.8,1014.9 1519.1,951.0 1519.4,995.8 1519.8,992.1 1520.1,1031.2 1520.4,1031.2 1520.7,988.4 1521.1,935.5 1521.4,1014.9 1521.7,944.7 1522.0,974.3 1522.4,941.6 1522.7,974.3 1523.0,964.1 1523.3,992.1 1523.7,984.8 1524.0,974.3 1524.3,1011.0 1524.6,1003.3 1525.0,1014.9 1525.3,995.8 1525.6,944.7 1526.0,999.5 1526.3,906.6 1526.6,992.1 1526.9,1011.0 1527.3,941.6 1527.6,964.1 1527.9,981.3 1528.2,957.5 1528.6,957.5 1528.9,977.8 1529.2,967.5 1529.5,1022.9 1529.9,992.1 1530.2,974.3 1530.5,954.3 1530.8,1022.9 1531.2,970.9 1531.5,957.5 1531.8,974.3 1532.1,974.3 1532.5,974.3 1532.8,977.8 1533.1,941.6 1533.4,995.8 1533.8,1031.2 1534.1,999.5 1534.4,964.1 1534.7,947.9 1535.1,988.4 1535.4,981.3 1535.7,992.1 1536.0,984.8 1536.4,1027.0 1536.7,970.9 1537.0,951.0 1537.3,914.9 1537.7,981.3 1538.0,960.8 1538.3,917.8 1538.6,984.8 1539.0,1007.1 1539.3,951.0 1539.6,995.8 1539.9,1027.0 1540.3,977.8 1540.6,960.8 1540.9,1014.9 1541.2,967.5 1541.6,1027.0 1541.9,1031.2 1542.2,988.4 1542.5,926.5 1542.9,957.5 1543.2,1057.3 1543.5,967.5 1543.8,1003.3 1544.2,957.5 1544.5,984.8 1544.8,992.1 1545.1,970.9 1545.5,995.8 1545.8,970.9 1546.1,1014.9 1546.4,947.9 1546.8,970.9 1547.1,1007.1 1547.4,951.0 1547.8,951.0 1548.1,964.1 1548.4,984.8 1548.7,974.3 1549.1,957.5 1549.4,977.8 1549.7,988.4 1550.0,944.7 1550.4,932.5 1550.7,999.5 1551.0,951.0 1551.3,981.3 1551.7,941.6 1552.0,1011.0 1552.3,988.4 1552.6,1003.3 1553.0,964.1 1553.3,947.9 1553.6,977.8 1553.9,951.0 1554.3,970.9 1554.6,1022.9 1554.9,960.8 1555.2,974.3 1555.6,1044.0 1555.9,1007.1 1556.2,970.9 1556.5,984.8 1556.9,981.3 1557.2,1011.0 1557.5,964.1 1557.8,964.1 1558.2,951.0 1558.5,995.8 1558.8,951.0 1559.1,970.9 1559.5,929.5 1559.8,929.5 1560.1,951.0 1560.4,954.3 1560.8,1011.0 1561.1,977.8 1561.4,974.3 1561.7,999.5 1562.1,970.9 1562.4,964.1 1562.7,981.3 1563.0,1018.9 1563.4,988.4 1563.7,935.5 1564.0,1011.0 1564.3,954.3 1564.7,995.8 1565.0,960.8 1565.3,1018.9 1565.6,984.8 1566.0,992.1 1566.3,1039.6 1566.6,1014.9 1566.9,954.3 1567.3,995.8 1567.6,1027.0 1567.9,1007.1 1568.2,906.6 1568.6,964.1 1568.9,944.7 1569.2,1044.0 1569.5,926.5 1569.9,992.1 1570.2,1022.9 1570.5,935.5 1570.9,957.5 1571.2,1003.3 1571.5,999.5 1571.8,1071.3 1572.2,970.9 1572.5,970.9 1572.8,1057.3 1573.1,999.5 1573.5,1007.1 1573.8,1039.6 1574.1,988.4 1574.4,995.8 1574.8,1018.9 1575.1,988.4 1575.4,954.3 1575.7,1011.0 1576.1,903.8 1576.4,935.5 1576.7,1039.6 1577.0,938.5 1577.4,970.9 1577.7,967.5 1578.0,1003.3 1578.3,941.6 1578.7,960.8 1579.0,967.5 1579.3,1003.3 1579.6,1018.9 1580.0,981.3 1580.3,992.1 1580.6,977.8 1580.9,999.5 1581.3,1022.9 1581.6,974.3 1581.9,938.5 1582.2,995.8 1582.6,995.8 1582.9,974.3 1583.2,977.8 1583.5,960.8 1583.9,1044.0 1584.2,964.1 1584.5,1044.0 1584.8,970.9 1585.2,1076.1 1585.5,947.9 1585.8,1018.9 1586.1,926.5 1586.5,941.6 1586.8,960.8 1587.1,914.9 1587.4,995.8 1587.8,988.4 1588.1,992.1 1588.4,1031.2 1588.7,988.4 1589.1,974.3 1589.4,995.8 1589.7,984.8 1590.0,967.5 1590.4,1018.9 1590.7,974.3 1591.0,938.5 1591.3,954.3 1591.7,995.8 1592.0,947.9 1592.3,988.4 1592.7,1018.9 1593.0,1022.9 1593.3,1003.3 1593.6,992.1 1594.0,984.8 1594.3,951.0 1594.6,929.5 1594.9,1035.4 1595.3,929.5 1595.6,947.9 1595.9,981.3 1596.2,992.1 1596.6,944.7 1596.9,957.5 1597.2,977.8 1597.5,954.3 1597.9,938.5 1598.2,967.5 1598.5,944.7 1598.8,977.8 1599.2,967.5 1599.5,929.5 1599.8,1027.0 1600.1,954.3 1600.5,1048.3 1600.8,1007.1 1601.1,981.3 1601.4,935.5 1601.8,1003.3 1602.1,941.6 1602.4,977.8 1602.7,967.5 1603.1,932.5 1603.4,1035.4 1603.7,947.9 1604.0,970.9 1604.4,984.8 1604.7,970.9 1605.0,941.6 1605.3,1003.3 1605.7,951.0 1606.0,957.5 1606.3,951.0 1606.6,1011.0 1607.0,944.7 1607.3,988.4 1607.6,995.8 1607.9,984.8 1608.3,974.3 1608.6,984.8 1608.9,957.5 1609.2,932.5 1609.6,1018.9 1609.9,999.5 1610.2,917.8 1610.5,960.8 1610.9,964.1 1611.2,967.5 1611.5,995.8 1611.8,970.9 1612.2,960.8 1612.5,992.1 1612.8,999.5 1613.1,967.5 1613.5,954.3 1613.8,988.4 1614.1,954.3 1614.4,1039.6 1614.8,1018.9 1615.1,947.9 1615.4,995.8 1615.8,1018.9 1616.1,974.3 1616.4,981.3 1616.7,992.1 1617.1,1052.8 1617.4,1003.3 1617.7,981.3 1618.0,1003.3 1618.4,1035.4 1618.7,909.3 1619.0,1018.9 1619.3,960.8 1619.7,947.9 1620.0,992.1 1620.3,1014.9 1620.6,1018.9 1621.0,988.4 1621.3,1057.3 1621.6,981.3 1621.9,1022.9 1622.3,984.8 1622.6,977.8 1622.9,941.6 1623.2,1061.9 1623.6,941.6 1623.9,909.3 1624.2,981.3 1624.5,957.5 1624.9,967.5 1625.2,999.5 1625.5,1027.0 1625.8,951.0 1626.2,999.5 1626.5,1031.2 1626.8,995.8 1627.1,947.9 1627.5,935.5 1627.8,992.1 1628.1,960.8 1628.4,970.9 1628.8,964.1 1629.1,944.7 1629.4,1018.9 1629.7,1031.2 1630.1,967.5 1630.4,960.8 1630.7,1014.9 1631.0,984.8 1631.4,977.8 1631.7,1022.9 1632.0,1031.2 1632.3,974.3 1632.7,995.8 1633.0,999.5 1633.3,967.5 1633.6,935.5 1634.0,988.4 1634.3,967.5 1634.6,974.3 1634.9,970.9 1635.3,970.9 1635.6,967.5 1635.9,967.5 1636.2,1085.9 1636.6,1035.4 1636.9,970.9 1637.2,974.3 1637.5,988.4 1637.9,932.5 1638.2,1052.8 1638.5,954.3 1638.9,951.0 1639.2,988.4 1639.5,992.1 1639.8,999.5 1640.2,960.8 1640.5,974.3 1640.8,1014.9 1641.1,964.1 1641.5,1011.0 1641.8,1018.9 1642.1,941.6 1642.4,1035.4 1642.8,967.5 1643.1,1007.1 1643.4,967.5 1643.7,947.9 1644.1,1022.9 1644.4,1007.1 1644.7,1014.9 1645.0,1066.6 1645.4,1022.9 1645.7,1007.1 1646.0,1007.1 1646.3,929.5 1646.7,981.3 1647.0,944.7 1647.3,1039.6 1647.6,999.5 1648.0,1003.3 1648.3,988.4 1648.6,1061.9 1648.9,984.8 1649.3,977.8 1649.6,970.9 1649.9,941.6 1650.2,981.3 1650.6,999.5 1650.9,1057.3 1651.2,988.4 1651.5,964.1 1651.9,964.1 1652.2,977.8 1652.5,981.3 1652.8,938.5 1653.2,995.8 1653.5,1052.8 1653.8,1003.3 1654.1,964.1 1654.5,1018.9 1654.8,992.1 1655.1,999.5 1655.4,967.5 1655.8,1007.1 1656.1,974.3 1656.4,995.8 1656.7,964.1 1657.1,1011.0 1657.4,988.4 1657.7,1003.3 1658.0,981.3 1658.4,1052.8 1658.7,964.1 1659.0,1022.9 1659.3,999.5 1659.7,1003.3 1660.0,984.8 1660.3,974.3 1660.7,957.5 1661.0,1052.8 1661.3,992.1 1661.6,947.9 1662.0,992.1 1662.3,999.5 1662.6,974.3 1662.9,1057.3 1663.3,964.1 1663.6,935.5 1663.9,1039.6 1664.2,984.8 1664.6,995.8 1664.9,954.3 1665.2,917.8 1665.5,932.5 1665.9,909.3 1666.2,1014.9 1666.5,995.8 1666.8,941.6 1667.2,999.5 1667.5,984.8 1667.8,1018.9 1668.1,964.1 1668.5,967.5 1668.8,977.8 1669.1,981.3 1669.4,970.9 1669.8,988.4 1670.1,957.5 1670.4,981.3 1670.7,974.3 1671.1,951.0 1671.4,941.6 1671.7,981.3 1672.0,988.4 1672.4,1044.0 1672.7,984.8 1673.0,1014.9 1673.3,992.1 1673.7,954.3 1674.0,970.9 1674.3,970.9 1674.6,960.8 1675.0,974.3 1675.3,960.8 1675.6,999.5 1675.9,974.3 1676.3,944.7 1676.6,981.3 1676.9,906.6 1677.2,923.6 1677.6,995.8 1677.9,977.8 1678.2,1011.0 1678.5,938.5 1678.9,984.8 1679.2,1003.3 1679.5,970.9 1679.8,984.8 1680.2,988.4 1680.5,999.5 1680.8,1014.9 1681.1,995.8 1681.5,1061.9 1681.8,995.8 1682.1,926.5 1682.4,967.5 1682.8,964.1 1683.1,988.4 1683.4,999.5 1683.8,1027.0 1684.1,981.3 1684.4,1011.0 1684.7,984.8 1685.1,981.3 1685.4,999.5 1685.7,1035.4 1686.0,995.8 1686.4,1007.1 1686.7,1003.3 1687.0,1027.0 1687.3,984.8 1687.7,967.5 1688.0,1014.9 1688.3,999.5 1688.6,1018.9 1689.0,992.1 1689.3,995.8 1689.6,984.8 1689.9,967.5 1690.3,1011.0 1690.6,967.5 1690.9,1044.0 1691.2,964.1 1691.6,1003.3 1691.9,1044.0 1692.2,954.3 1692.5,999.5 1692.9,929.5 1693.2,995.8 1693.5,992.1 1693.8,951.0 1694.2,984.8 1694.5,951.0 1694.8,967.5 1695.1,1011.0 1695.5,1007.1 1695.8,967.5 1696.1,981.3 1696.4,938.5 1696.8,974.3 1697.1,1081.0 1697.4,951.0 1697.7,992.1 1698.1,999.5 1698.4,1048.3 1698.7,960.8 1699.0,938.5 1699.4,1039.6 1699.7,984.8 1700.0,984.8 1700.3,914.9 1700.7,995.8 1701.0,1031.2 1701.3,914.9 1701.6,960.8 1702.0,967.5 1702.3,944.7 1702.6,995.8 1702.9,1044.0 1703.3,957.5 1703.6,960.8 1703.9,941.6 1704.2,992.1 1704.6,964.1 1704.9,974.3 1705.2,964.1 1705.5,964.1 1705.9,964.1 1706.2,954.3 1706.5,941.6 1706.9,995.8 1707.2,977.8 1707.5,967.5 1707.8,970.9 1708.2,964.1 1708.5,967.5 1708.8,967.5 1709.1,999.5 1709.5,932.5 1709.8,1011.0 1710.1,1048.3 1710.4,977.8 1710.8,999.5 1711.1,941.6 1711.4,995.8 1711.7,964.1 1712.1,999.5 1712.4,984.8 1712.7,967.5 1713.0,995.8 1713.4,1007.1 1713.7,988.4 1714.0,1066.6 1714.3,1018.9 1714.7,941.6 1715.0,960.8 1715.3,1014.9 1715.6,977.8 1716.0,957.5 1716.3,944.7 1716.6,1057.3 1716.9,944.7 1717.3,1014.9 1717.6,957.5 1717.9,1007.1 1718.2,947.9 1718.6,1003.3 1718.9,995.8 1719.2,992.1 1719.5,941.6 1719.9,954.3 1720.2,938.5 1720.5,1027.0 1720.8,984.8 1721.2,988.4 1721.5,984.8 1721.8,988.4 1722.1,960.8 1722.5,1044.0 1722.8,999.5 1723.1,970.9 1723.4,1052.8 1723.8,947.9 1724.1,1011.0 1724.4,941.6 1724.7,977.8 1725.1,970.9 1725.4,964.1 1725.7,938.5 1726.0,974.3 1726.4,984.8 1726.7,941.6 1727.0,1091.0 1727.3,938.5 1727.7,967.5 1728.0,903.8 1728.3,893.1 1728.7,981.3 1729.0,1027.0 1729.3,1007.1 1729.6,1003.3 1730.0,1048.3 1730.3,1052.8 1730.6,1007.1 1730.9,977.8 1731.3,1035.4 1731.6,1018.9 1731.9,992.1 1732.2,1014.9 1732.6,992.1 1732.9,1123.2 1733.2,995.8 1733.5,1011.0 1733.9,1003.3 1734.2,977.8 1734.5,960.8 1734.8,938.5 1735.2,964.1 1735.5,970.9 1735.8,1022.9 1736.1,995.8 1736.5,981.3 1736.8,974.3 1737.1,974.3 1737.4,960.8 1737.8,984.8 1738.1,1027.0 1738.4,988.4 1738.7,967.5 1739.1,951.0 1739.4,984.8 1739.7,977.8 1740.0,977.8 1740.4,964.1 1740.7,929.5 1741.0,954.3 1741.3,1018.9 1741.7,988.4 1742.0,967.5 1742.3,951.0 1742.6,951.0 1743.0,929.5 1743.3,941.6 1743.6,1057.3 1743.9,1031.2 1744.3,970.9 1744.6,1057.3 1744.9,970.9 1745.2,988.4 1745.6,974.3 1745.9,984.8 1746.2,1057.3 1746.5,912.1 1746.9,1011.0 1747.2,951.0 1747.5,981.3 1747.8,1011.0 1748.2,977.8 1748.5,984.8 1748.8,992.1 1749.1,1031.2 1749.5,1039.6 1749.8,1011.0 1750.1,992.1 1750.4,944.7 1750.8,957.5 1751.1,960.8 1751.4,981.3 1751.8,957.5 1752.1,954.3 1752.4,951.0 1752.7,1007.1 1753.1,1014.9 1753.4,992.1 1753.7,1014.9 1754.0,938.5 1754.4,957.5 1754.7,1011.0 1755.0,984.8 1755.3,957.5 1755.7,923.6 1756.0,1031.2 1756.3,995.8 1756.6,992.1 1757.0,970.9 1757.3,1007.1 1757.6,970.9 1757.9,1031.2 1758.3,1031.2 1758.6,984.8 1758.9,1035.4 1759.2,1048.3 1759.6,944.7 1759.9,992.1 1760.2,1022.9 1760.5,954.3 1760.9,977.8 1761.2,1007.1 1761.5,995.8 1761.8,1014.9 1762.2,977.8 1762.5,1035.4 1762.8,981.3 1763.1,1044.0 1763.5,1007.1 1763.8,1003.3 1764.1,938.5 1764.4,981.3 1764.8,1007.1 1765.1,984.8 1765.4,926.5 1765.7,984.8 1766.1,954.3 1766.4,992.1 1766.7,1011.0 1767.0,1011.0 1767.4,947.9 1767.7,954.3 1768.0,974.3 1768.3,929.5 1768.7,944.7 1769.0,967.5 1769.3,977.8 1769.6,1007.1 1770.0,964.1 1770.3,977.8 1770.6,970.9 1770.9,1018.9 1771.3,1011.0 1771.6,1014.9 1771.9,1048.3 1772.2,977.8 1772.6,999.5 1772.9,1018.9 1773.2,984.8 1773.6,914.9 1773.9,1007.1 1774.2,992.1 1774.5,984.8 1774.9,1007.1 1775.2,1031.2 1775.5,1007.1 1775.8,988.4 1776.2,967.5 1776.5,1039.6 1776.8,977.8 1777.1,1057.3 1777.5,935.5 1777.8,964.1 1778.1,1007.1 1778.4,941.6 1778.8,995.8 1779.1,988.4 1779.4,999.5 1779.7,1014.9 1780.1,970.9 1780.4,967.5 1780.7,1018.9 1781.0,999.5 1781.4,941.6 1781.7,988.4 1782.0,944.7 1782.3,957.5 1782.7,1035.4 1783.0,974.3 1783.3,1003.3 1783.6,974.3 1784.0,992.1 1784.3,981.3 1784.6,981.3 1784.9,981.3 1785.3,995.8 1785.6,995.8 1785.9,1007.1 1786.2,1027.0 1786.6,999.5 1786.9,1022.9 1787.2,970.9 1787.5,1014.9 1787.9,954.3 1788.2,1035.4 1788.5,981.3 1788.8,988.4 1789.2,951.0 1789.5,1027.0 1789.8,988.4 1790.1,957.5 1790.5,960.8 1790.8,970.9 1791.1,957.5 1791.4,929.5 1791.8,974.3 1792.0,970.9" fill="none" stroke="#000" stroke-width="2.9" stroke-linejoin="round" stroke-linecap="round"/>
<path d="M397.6,1128.0 398.0,739.1 398.5,486.1 398.9,470.5 399.4,445.9 399.9,448.8 400.3,440.6 400.8,439.0 401.3,422.9 401.7,393.0 402.2,389.6 402.7,376.5 403.1,366.2 403.6,352.5 404.1,342.4 404.5,336.3 405.0,321.5 405.5,312.3 405.9,294.6 406.4,294.3 406.8,295.8 407.3,273.1 407.8,279.7 408.2,274.1 408.7,250.7 409.2,244.8 409.6,256.4 410.1,243.5 410.6,234.2 411.0,246.7 411.5,245.8 412.0,222.1 412.4,228.9 412.9,224.7 413.4,218.4 413.8,221.2 414.3,216.5 414.7,212.9 415.2,211.2 415.7,219.8 416.1,210.6 416.6,214.6 417.1,215.3 417.5,218.6 418.0,207.8 418.5,199.8 418.9,192.1 419.4,192.4 419.9,197.3 420.3,202.4 420.8,200.9 421.3,189.8 421.7,195.5 422.2,188.0 422.6,188.4 423.1,183.9 423.6,188.4 424.0,196.6 424.5,189.3 425.0,187.2 425.4,175.5 425.9,178.9 426.4,175.8 426.8,191.9 427.3,184.7 427.8,177.4 428.2,181.1 428.7,175.5 429.2,179.7 429.6,184.4 430.1,181.3 430.6,179.4 431.0,175.2 431.5,169.8 431.9,171.5 432.4,173.7 432.9,165.4 433.3,167.7 433.8,172.5 434.3,164.5 434.7,175.7 435.2,160.8 435.7,161.7 436.1,170.8 436.6,170.3 437.1,176.7 437.5,165.9 438.0,160.4 438.5,158.0 438.9,164.5 439.4,160.3 439.8,165.4 440.3,165.6 440.8,187.0 441.2,162.4 441.7,174.0 442.2,174.3 442.6,170.3 443.1,182.8 443.6,172.5 444.0,166.6 444.5,162.0 445.0,151.8 445.4,175.3 445.9,176.7 446.4,170.7 446.8,170.0 447.3,160.6 447.7,163.6 448.2,167.2 448.7,174.2 449.1,172.3 449.6,167.1 450.1,170.2 450.5,159.2 451.0,161.2 451.5,176.0 451.9,170.3 452.4,168.9 452.9,154.9 453.3,177.5 453.8,168.5 454.3,165.6 454.7,165.1 455.2,176.9 455.7,166.4 456.1,172.8 456.6,184.2 457.0,175.3 457.5,169.8 458.0,173.0 458.4,164.1 458.9,174.7 459.4,170.3 459.8,175.3 460.3,170.7 460.8,188.4 461.2,181.3 461.7,178.0 462.2,173.0 462.6,190.1 463.1,182.1 463.6,170.8 464.0,183.2 464.5,173.8 464.9,173.0 465.4,188.4 465.9,188.6 466.3,182.7 466.8,183.9 467.3,190.9 467.7,190.1 468.2,186.1 468.7,195.5 469.1,191.6 469.6,190.3 470.1,183.9 470.5,185.4 471.0,182.0 471.5,204.8 471.9,199.1 472.4,202.0 472.8,208.0 473.3,201.7 473.8,199.8 474.2,208.5 474.7,214.2 475.2,210.6 475.6,215.2 476.1,211.2 476.6,214.4 477.0,215.2 477.5,206.6 478.0,220.8 478.4,213.4 478.9,213.2 479.4,223.3 479.8,222.7 480.3,219.4 480.7,235.6 481.2,214.8 481.7,221.7 482.1,229.1 482.6,233.1 483.1,235.8 483.5,230.7 484.0,238.3 484.5,235.0 484.9,232.5 485.4,227.1 485.9,250.5 486.3,250.1 486.8,239.7 487.3,237.6 487.7,246.0 488.2,236.0 488.7,256.0 489.1,257.7 489.6,254.4 490.0,250.1 490.5,247.5 491.0,260.4 491.4,251.2 491.9,249.9 492.4,256.6 492.8,249.9 493.3,250.5 493.8,267.8 494.2,254.9 494.7,274.3 495.2,275.5 495.6,276.4 496.1,276.6 496.6,282.8 497.0,265.6 497.5,270.4 497.9,281.4 498.4,290.4 498.9,297.1 499.3,290.4 499.8,289.1 500.3,290.1 500.7,282.8 501.2,285.0 501.7,279.2 502.1,294.8 502.6,294.6 503.1,306.3 503.5,295.8 504.0,297.9 504.5,305.3 504.9,310.5 505.4,302.9 505.8,316.6 506.3,298.1 506.8,312.3 507.2,315.0 507.7,315.8 508.2,334.6 508.6,315.5 509.1,342.7 509.6,341.2 510.0,342.4 510.5,351.6 511.0,361.8 511.4,363.0 511.9,349.8 512.4,352.5 512.8,356.2 513.3,360.8 513.8,365.2 514.2,347.1 514.7,361.1 515.1,361.8 515.6,372.3 516.1,364.0 516.5,372.3 517.0,367.8 517.5,385.1 517.9,377.5 518.4,385.1 518.9,398.3 519.3,405.0 519.8,408.3 520.3,406.5 520.7,400.0 521.2,405.4 521.7,397.2 522.1,392.7 522.6,415.3 523.0,434.2 523.5,407.9 524.0,414.6 524.4,436.2 524.9,425.2 525.4,440.6 525.8,432.6 526.3,433.8 526.8,448.8 527.2,459.0 527.7,444.7 528.2,444.3 528.6,465.1 529.1,441.4 529.6,462.9 530.0,459.0 530.5,469.1 530.9,455.2 531.4,460.3 531.9,445.9 532.3,457.7 532.8,481.9 533.3,447.2 533.7,485.2 534.2,495.7 534.7,487.5 535.1,481.4 535.6,489.9 536.1,491.8 536.5,495.2 537.0,489.9 537.5,486.1 537.9,510.7 538.4,495.2 538.8,520.1 539.3,509.7 539.8,481.0 540.2,519.6 540.7,552.5 541.2,523.8 541.6,508.2 542.1,513.3 542.6,532.5 543.0,541.5 543.5,513.3 544.0,533.6 544.4,518.5 544.9,528.7 545.4,562.6 545.8,532.0 546.3,557.8 546.8,534.2 547.2,554.8 547.7,553.0 548.1,551.9 548.6,553.0 549.1,553.6 549.5,577.6 550.0,548.9 550.5,556.6 550.9,576.4 551.4,545.5 551.9,557.2 552.3,560.8 552.8,562.6 553.3,580.2 553.7,607.2 554.2,592.7 554.7,563.3 555.1,561.4 555.6,593.4 556.0,599.6 556.5,579.6 557.0,599.6 557.4,600.3 557.9,587.4 558.4,571.9 558.8,633.8 559.3,602.3 559.8,607.9 560.2,583.5 560.7,613.0 561.2,598.2 561.6,571.9 562.1,621.0 562.6,643.3 563.0,629.2 563.5,644.1 563.9,621.7 564.4,619.5 564.9,623.2 565.3,622.5 565.8,625.5 566.3,640.1 566.7,654.6 567.2,682.4 567.7,641.7 568.1,654.6 568.6,628.5 569.1,654.6 569.5,632.3 570.0,667.3 570.5,665.6 570.9,662.2 571.4,661.3 571.9,672.5 572.3,669.9 572.8,664.7 573.2,673.4 573.7,648.1 574.2,682.4 574.6,681.4 575.1,667.3 575.6,690.6 576.0,675.2 576.5,703.0 577.0,640.1 577.4,669.9 577.9,681.4 578.4,695.3 578.8,692.5 579.3,706.0 579.8,663.0 580.2,717.0 580.7,700.1 581.1,705.0 581.6,699.2 582.1,685.1 582.5,717.0 583.0,698.2 583.5,711.9 583.9,708.9 584.4,704.0 584.9,702.0 585.3,706.0 585.8,697.2 586.3,717.0 586.7,719.0 587.2,746.9 587.7,681.4 588.1,729.4 588.6,708.9 589.0,706.9 589.5,741.3 590.0,727.3 590.4,746.9 590.9,718.0 591.4,719.0 591.8,696.3 592.3,738.0 592.8,752.6 593.2,738.0 593.7,735.9 594.2,737.0 594.6,782.7 595.1,723.1 595.6,757.2 596.0,763.1 596.5,735.9 596.9,753.7 597.4,760.7 597.9,782.7 598.3,722.1 598.8,756.1 599.3,748.0 599.7,763.1 600.2,752.6 600.7,751.5 601.1,756.1 601.6,782.7 602.1,781.5 602.5,763.1 603.0,776.5 603.5,757.2 603.9,781.5 604.4,784.0 604.9,750.3 605.3,754.9 605.8,798.3 606.2,781.5 606.7,766.7 607.2,780.2 607.6,758.4 608.1,754.9 608.6,793.1 609.0,769.1 609.5,770.3 610.0,790.4 610.4,810.6 610.9,814.8 611.4,777.7 611.8,791.7 612.3,827.8 612.8,852.3 613.2,798.3 613.7,822.0 614.1,806.5 614.6,797.0 615.1,807.8 615.5,805.1 616.0,798.3 616.5,824.9 616.9,830.8 617.4,810.6 617.9,799.7 618.3,823.4 618.8,772.8 619.3,836.8 619.7,852.3 620.2,809.2 620.7,814.8 621.1,787.8 621.6,829.3 622.0,844.4 622.5,839.8 623.0,838.3 623.4,850.7 623.9,857.2 624.4,836.8 624.8,823.4 625.3,816.2 625.8,855.5 626.2,838.3 626.7,827.8 627.2,822.0 627.6,838.3 628.1,830.8 628.6,842.9 629.0,865.4 629.5,850.7 630.0,853.9 630.4,835.2 630.9,900.8 631.3,841.3 631.8,805.1 632.3,852.3 632.7,880.8 633.2,833.7 633.7,850.7 634.1,827.8 634.6,844.4 635.1,823.4 635.5,880.8 636.0,855.5 636.5,867.1 636.9,860.4 637.4,836.8 637.9,898.9 638.3,868.8 638.8,906.5 639.2,862.1 639.7,823.4 640.2,870.5 640.6,891.5 641.1,850.7 641.6,884.3 642.0,895.2 642.5,884.3 643.0,870.5 643.4,875.6 643.9,873.9 644.4,832.2 644.8,873.9 645.3,858.8 645.8,870.5 646.2,872.2 646.7,855.5 647.1,880.8 647.6,912.3 648.1,855.5 648.5,884.3 649.0,873.9 649.5,887.9 649.9,858.8 650.4,891.5 650.9,886.1 651.3,865.4 651.8,918.2 652.3,897.1 652.7,910.3 653.2,908.4 653.7,898.9 654.1,908.4 654.6,906.5 655.0,877.3 655.5,926.3 656.0,908.4 656.4,880.8 656.9,868.8 657.4,891.5 657.8,916.2 658.3,855.5 658.8,912.3 659.2,884.3 659.7,908.4 660.2,934.5 660.6,916.2 661.1,956.3 661.6,872.2 662.0,897.1 662.5,918.2 663.0,922.2 663.4,910.3 663.9,904.6 664.3,924.2 664.8,934.5 665.3,908.4 665.7,902.7 666.2,916.2 666.7,902.7 667.1,912.3 667.6,958.6 668.1,906.5 668.5,897.1 669.0,916.2 669.5,902.7 669.9,908.4 670.4,949.6 670.9,879.1 671.3,943.1 671.8,932.5 672.2,943.1 672.7,932.5 673.2,912.3 673.6,904.6 674.1,949.6 674.6,920.2 675.0,972.6 675.5,934.5 676.0,938.8 676.4,967.8 676.9,943.1 677.4,936.7 677.8,975.0 678.3,926.3 678.8,914.2 679.2,934.5 679.7,904.6 680.1,912.3 680.6,943.1 681.1,934.5 681.5,967.8 682.0,924.2 682.5,987.2 682.9,938.8 683.4,865.4 683.9,922.2 684.3,886.1 684.8,940.9 685.3,936.7 685.7,989.8 686.2,972.6 686.7,910.3 687.1,922.2 687.6,940.9 688.1,975.0 688.5,965.5 689.0,963.2 689.4,963.2 689.9,932.5 690.4,936.7 690.8,910.3 691.3,943.1 691.8,951.8 692.2,951.8 692.7,958.6 693.2,965.5 693.6,924.2 694.1,922.2 694.6,954.1 695.0,970.2 695.5,930.4 696.0,954.1 696.4,945.2 696.9,910.3 697.3,989.8 697.8,943.1 698.3,949.6 698.7,934.5 699.2,1013.4 699.7,992.3 700.1,1018.9 700.6,947.4 701.1,989.8 701.5,1005.3 702.0,1016.1 702.5,945.2 702.9,972.6 703.4,960.9 703.9,1002.7 704.3,960.9 704.8,918.2 705.2,970.2 705.7,982.3 706.2,972.6 706.6,951.8 707.1,965.5 707.6,982.3 708.0,970.2 708.5,945.2 709.0,970.2 709.4,947.4 709.9,954.1 710.4,922.2 710.8,989.8 711.3,1002.7 711.8,945.2 712.2,977.4 712.7,920.2 713.1,963.2 713.6,997.4 714.1,938.8 714.5,951.8 715.0,977.4 715.5,951.8 715.9,1005.3 716.4,958.6 716.9,1030.2 717.3,970.2 717.8,975.0 718.3,1000.0 718.7,972.6 719.2,970.2 719.7,932.5 720.1,989.8 720.6,1000.0 721.1,1033.1 721.5,1027.4 722.0,920.2 722.4,934.5 722.9,951.8 723.4,963.2 723.8,960.9 724.3,949.6 724.8,989.8 725.2,970.2 725.7,994.8 726.2,956.3 726.6,943.1 727.1,982.3 727.6,965.5 728.0,989.8 728.5,1000.0 729.0,979.8 729.4,989.8 729.9,918.2 730.3,1036.1 730.8,954.1 731.3,987.2 731.7,967.8 732.2,982.3 732.7,1010.7 733.1,1002.7 733.6,994.8 734.1,972.6 734.5,975.0 735.0,975.0 735.5,989.8 735.9,1027.4 736.4,972.6 736.9,954.1 737.3,1005.3 737.8,1016.1 738.2,997.4 738.7,994.8 739.2,938.8 739.6,960.9 740.1,963.2 740.6,1010.7 741.0,987.2 741.5,1005.3 742.0,1024.5 742.4,979.8 742.9,956.3 743.4,987.2 743.8,992.3 744.3,975.0 744.8,989.8 745.2,926.3 745.7,970.2 746.2,975.0 746.6,977.4 747.1,956.3 747.5,1000.0 748.0,1000.0 748.5,1016.1 748.9,994.8 749.4,972.6 749.9,979.8 750.3,972.6 750.8,1013.4 751.3,982.3 751.7,1018.9 752.2,1013.4 752.7,982.3 753.1,972.6 753.6,987.2 754.1,967.8 754.5,956.3 755.0,963.2 755.4,994.8 755.9,982.3 756.4,987.2 756.8,1021.7 757.3,930.4 757.8,989.8 758.2,947.4 758.7,963.2 759.2,960.9 759.6,997.4 760.1,1045.0 760.6,979.8 761.0,1018.9 761.5,960.9 762.0,1036.1 762.4,967.8 762.9,1021.7 763.3,987.2 763.8,1010.7 764.3,1013.4 764.7,1008.0 765.2,1002.7 765.7,1021.7 766.1,979.8 766.6,979.8 767.1,940.9 767.5,1033.1 768.0,1002.7 768.5,1005.3 768.9,1013.4 769.4,963.2 769.9,970.2 770.3,982.3 770.8,1048.1 771.2,1070.4 771.7,992.3 772.2,1027.4 772.6,984.7 773.1,992.3 773.6,979.8 774.0,994.8 774.5,958.6 775.0,992.3 775.4,1033.1 775.9,997.4 776.4,994.8 776.8,1060.6 777.3,1008.0 777.8,982.3 778.2,1030.2 778.7,945.2 779.2,989.8 779.6,982.3 780.1,954.1 780.5,1036.1 781.0,1013.4 781.5,967.8 781.9,992.3 782.4,965.5 782.9,1000.0 783.3,1002.7 783.8,1013.4 784.3,1018.9 784.7,975.0 785.2,1002.7 785.7,1057.4 786.1,940.9 786.6,984.7 787.1,975.0 787.5,1030.2 788.0,1016.1 788.4,992.3 788.9,987.2 789.4,975.0 789.8,997.4 790.3,1005.3 790.8,997.4 791.2,1051.2 791.7,975.0 792.2,977.4 792.6,1048.1 793.1,982.3 793.6,984.7 794.0,1002.7 794.5,997.4 795.0,1005.3 795.4,938.8 795.9,1045.0 796.3,1005.3 796.8,1002.7 797.3,967.8 797.7,1000.0 798.2,970.2 798.7,1021.7 799.1,982.3 799.6,1002.7 800.1,1024.5 800.5,979.8 801.0,1024.5 801.5,1051.2 801.9,1013.4 802.4,1016.1 802.9,997.4 803.3,1002.7 803.8,1016.1 804.3,972.6 804.7,965.5 805.2,1048.1 805.6,1000.0 806.1,1008.0 806.6,1002.7 807.0,1008.0 807.5,997.4 808.0,1008.0 808.4,1010.7 808.9,1042.0 809.4,1042.0 809.8,1016.1 810.3,954.1 810.8,1021.7 811.2,1030.2 811.7,979.8 812.2,1005.3 812.6,1000.0 813.1,1027.4 813.5,1033.1 814.0,1036.1 814.5,994.8 814.9,1010.7 815.4,1045.0 815.9,994.8 816.3,1008.0 816.8,1030.2 817.3,1013.4 817.7,1070.4 818.2,965.5 818.7,972.6 819.1,1005.3 819.6,975.0 820.1,1008.0 820.5,994.8 821.0,1024.5 821.4,1033.1 821.9,1039.0 822.4,997.4 822.8,1048.1 823.3,1036.1 823.8,1045.0 824.2,1000.0 824.7,1045.0 825.2,1018.9 825.6,1016.1 826.1,987.2 826.6,1010.7 827.0,1027.4 827.5,970.2 828.0,1021.7 828.4,1018.9 828.9,1027.4 829.3,972.6 829.8,1021.7 830.3,1060.6 830.7,1013.4 831.2,1027.4 831.7,1063.8 832.1,1060.6 832.6,1048.1 833.1,997.4 833.5,1057.4 834.0,1067.1 834.5,1024.5 834.9,1067.1 835.4,994.8 835.9,1042.0 836.3,1016.1 836.8,975.0 837.3,1060.6 837.7,1039.0 838.2,1013.4 838.6,1057.4 839.1,932.5 839.6,1090.9 840.0,967.8 840.5,989.8 841.0,1036.1 841.4,1013.4 841.9,1042.0 842.4,1016.1 842.8,1054.3 843.3,1002.7 843.8,1048.1 844.2,1030.2 844.7,1042.0 845.2,1030.2 845.6,1036.1 846.1,1105.3 846.5,1008.0 847.0,1016.1 847.5,1018.9 847.9,997.4 848.4,1073.7 848.9,1101.7 849.3,1054.3 849.8,979.8 850.3,989.8 850.7,982.3 851.2,1039.0 851.7,1008.0 852.1,989.8 852.6,1005.3 853.1,1018.9 853.5,1016.1 854.0,975.0 854.4,1048.1 854.9,1002.7 855.4,997.4 855.8,967.8 856.3,1048.1 856.8,1045.0 857.2,1036.1 857.7,1013.4 858.2,1030.2 858.6,1051.2 859.1,1008.0 859.6,1005.3 860.0,997.4 860.5,965.5 861.0,1030.2 861.4,1024.5 861.9,1120.6 862.4,1048.1 862.8,1054.3 863.3,1045.0 863.7,989.8 864.2,1016.1 864.7,1000.0 865.1,997.4 865.6,1005.3 866.1,1036.1 866.5,1054.3 867.0,1030.2 867.5,1051.2 867.9,1024.5 868.4,1036.1 868.9,997.4 869.3,967.8 869.8,1002.7 870.3,1027.4 870.7,1013.4 871.2,989.8 871.6,1087.3 872.1,1063.8 872.6,1033.1 873.0,1054.3 873.5,1021.7 874.0,1039.0 874.4,1045.0 874.9,1036.1 875.4,1024.5 875.8,1013.4 876.3,989.8 876.8,1042.0 877.2,997.4 877.7,1048.1 878.2,1033.1 878.6,1073.7 879.1,1045.0 879.5,1048.1 880.0,1033.1 880.5,1005.3 880.9,1005.3 881.4,1000.0 881.9,1063.8 882.3,1030.2 882.8,1021.7 883.3,1094.4 883.7,1036.1 884.2,1021.7 884.7,984.7 885.1,1000.0 885.6,1027.4 886.1,997.4 886.5,1060.6 887.0,1021.7 887.4,1024.5 887.9,1057.4 888.4,987.2 888.8,1109.1 889.3,1057.4 889.8,1024.5 890.2,1045.0 890.7,1000.0 891.2,1045.0 891.6,1051.2 892.1,1039.0 892.6,1027.4 893.0,1087.3 893.5,1036.1 894.0,1036.1 894.4,1051.2 894.9,1048.1 895.4,1054.3 895.8,1036.1 896.3,1000.0 896.7,1002.7 897.2,1048.1 897.7,1098.0 898.1,1048.1 898.6,1033.1 899.1,1024.5 899.5,1048.1 900.0,1045.0 900.5,1010.7 900.9,1070.4 901.4,989.8 901.9,1030.2 902.3,1116.7 902.8,1073.7 903.3,992.3 903.7,1080.4 904.2,1060.6 904.6,1098.0 905.1,1024.5 905.6,1090.9 906.0,979.8 906.5,1042.0 907.0,1039.0 907.4,1048.1 907.9,1051.2 908.4,1016.1 908.8,1048.1 909.3,997.4 909.8,1067.1 910.2,982.3 910.7,1008.0 911.2,1002.7 911.6,1030.2 912.1,1039.0 912.5,1005.3 913.0,1016.1 913.5,1090.9 913.9,1080.4 914.4,1016.1 914.9,1098.0 915.3,987.2 915.8,1109.1 916.3,1013.4 916.7,1016.1 917.2,1021.7 917.7,1005.3 918.1,984.7 918.6,1021.7 919.1,1036.1 919.5,994.8 920.0,1039.0 920.4,1005.3 920.9,1027.4 921.4,1070.4 921.8,1042.0 922.3,1016.1 922.8,1013.4 923.2,1098.0 923.7,1033.1 924.2,1036.1 924.6,1042.0 925.1,1073.7 925.6,1067.1 926.0,1054.3 926.5,1008.0 927.0,1073.7 927.4,1073.7 927.9,1083.9 928.4,1039.0 928.8,1016.1 929.3,1039.0 929.7,1051.2 930.2,1027.4 930.7,1008.0 931.1,1105.3 931.6,1101.7 932.1,1033.1 932.5,1048.1 933.0,1077.0 933.5,1008.0 933.9,1018.9 934.4,1039.0 934.9,1045.0 935.3,1024.5 935.8,1098.0 936.3,1002.7 936.7,1063.8 937.2,1039.0 937.6,1039.0 938.1,1054.3 938.6,1033.1 939.0,1030.2 939.5,1101.7 940.0,1033.1 940.4,1033.1 940.9,1094.4 941.4,1051.2 941.8,1051.2 942.3,1094.4 942.8,1054.3 943.2,1054.3 943.7,1057.4 944.2,1018.9 944.6,1036.1 945.1,1120.6 945.5,1018.9 946.0,1083.9 946.5,1005.3 946.9,1039.0 947.4,1045.0 947.9,1073.7 948.3,1098.0 948.8,1063.8 949.3,1083.9 949.7,1048.1 950.2,1021.7 950.7,1042.0 951.1,1010.7 951.6,1067.1 952.1,1039.0 952.5,1027.4 953.0,1090.9 953.5,1000.0 953.9,1021.7 954.4,1033.1 954.8,992.3 955.3,1013.4 955.8,1067.1 956.2,1098.0 956.7,1048.1 957.2,967.8 957.6,1057.4 958.1,1077.0 958.6,1045.0 959.0,992.3 959.5,1057.4 960.0,1166.9 960.4,1073.7 960.9,1048.1 961.4,1094.4 961.8,1080.4 962.3,1042.0 962.7,1057.4 963.2,1039.0 963.7,1051.2 964.1,1054.3 964.6,1039.0 965.1,1054.3 965.5,1105.3 966.0,1080.4 966.5,1057.4 966.9,1073.7 967.4,1080.4 967.9,1140.7 968.3,1083.9 968.8,1008.0 969.3,1039.0 969.7,1116.7 970.2,1101.7 970.6,1073.7 971.1,1016.1 971.6,1067.1 972.0,1136.6 972.5,1048.1 973.0,1042.0 973.4,1094.4 973.9,1083.9 974.4,1090.9 974.8,1033.1 975.3,1101.7 975.8,1070.4 976.2,1080.4 976.7,1021.7 977.2,1077.0 977.6,1048.1 978.1,1057.4 978.5,1024.5 979.0,1109.1 979.5,1063.8 979.9,1057.4 980.4,1036.1 980.9,1063.8 981.3,1070.4 981.8,1027.4 982.3,1039.0 982.7,1109.1 983.2,1048.1 983.7,1016.1 984.1,1109.1 984.6,1109.1 985.1,1048.1 985.5,1067.1 986.0,1045.0 986.5,1045.0 986.9,1054.3 987.4,1057.4 987.8,1105.3 988.3,1030.2 988.8,1039.0 989.2,1116.7 989.7,1067.1 990.2,1051.2 990.6,1016.1 991.1,1039.0 991.6,1000.0 992.0,1083.9 992.5,1027.4 993.0,1077.0 993.4,1112.9 993.9,1112.9 994.4,1101.7 994.8,1105.3 995.3,1045.0 995.7,1109.1 996.2,1027.4 996.7,1083.9 997.1,1033.1 997.6,1094.4 998.1,1030.2 998.5,1054.3 999.0,1153.5 999.5,1109.1 999.9,1080.4 1000.4,1005.3 1000.9,1008.0 1001.3,1105.3 1001.8,1016.1 1002.3,1030.2 1002.7,992.3 1003.2,1030.2 1003.6,1067.1 1004.1,1030.2 1004.6,1087.3 1005.0,1094.4 1005.5,1098.0 1006.0,1051.2 1006.4,1039.0 1006.9,1073.7 1007.4,1024.5 1007.8,1070.4 1008.3,1010.7 1008.8,1101.7 1009.2,1010.7 1009.7,1042.0 1010.2,1045.0 1010.6,1030.2 1011.1,1083.9 1011.6,1109.1 1012.0,1016.1 1012.5,1057.4 1012.9,1060.6 1013.4,1105.3 1013.9,1021.7 1014.3,1077.0 1014.8,1090.9 1015.3,1063.8 1015.7,1067.1 1016.2,1036.1 1016.7,1077.0 1017.1,1090.9 1017.6,1112.9 1018.1,994.8 1018.5,1051.2 1019.0,1063.8 1019.5,1083.9 1019.9,1051.2 1020.4,1080.4 1020.8,1070.4 1021.3,1070.4 1021.8,1027.4 1022.2,1013.4 1022.7,1054.3 1023.2,1048.1 1023.6,1054.3 1024.1,1144.9 1024.6,1073.7 1025.0,1101.7 1025.5,1112.9 1026.0,1054.3 1026.4,1073.7 1026.9,1077.0 1027.4,1080.4 1027.8,1101.7 1028.3,1057.4 1028.7,1067.1 1029.2,1018.9 1029.7,1077.0 1030.1,1120.6 1030.6,1073.7 1031.1,1073.7 1031.5,1077.0 1032.0,1120.6 1032.5,1067.1 1032.9,1077.0 1033.4,1051.2 1033.9,1105.3 1034.3,1048.1 1034.8,1036.1 1035.3,1010.7 1035.7,1153.5 1036.2,1051.2 1036.6,1080.4 1037.1,1051.2 1037.6,1045.0 1038.0,1060.6 1038.5,1060.6 1039.0,1124.5 1039.4,1054.3 1039.9,1051.2 1040.4,1073.7 1040.8,1124.5 1041.3,1109.1 1041.8,1060.6 1042.2,1048.1 1042.7,1073.7 1043.1,1060.6 1043.6,1042.0 1044.1,1109.1 1044.5,1101.7 1045.0,1063.8 1045.5,1063.8 1045.9,1045.0 1046.4,1070.4 1046.8,1087.3 1047.3,1090.9 1047.8,1109.1 1048.2,1051.2 1048.7,1054.3 1049.1,1060.6 1049.6,1116.7 1050.1,1039.0 1050.5,1116.7 1051.0,1073.7 1051.4,1083.9 1051.9,1048.1 1052.4,1140.7 1052.8,1101.7 1053.3,1105.3 1053.7,1030.2 1054.2,1136.6 1054.7,1057.4 1055.1,1109.1 1055.6,1036.1 1056.0,1094.4 1056.5,1120.6 1057.0,1063.8 1057.4,1094.4 1057.9,1008.0 1058.3,1098.0 1058.8,1033.1 1059.2,1136.6 1059.7,1063.8 1060.2,1057.4 1060.6,1070.4 1061.1,1042.0 1061.5,1080.4 1062.0,1144.9 1062.4,1112.9 1062.9,1070.4 1063.3,1054.3 1063.8,1073.7 1064.3,1132.5 1064.7,1000.0 1065.2,1077.0 1065.6,1098.0 1066.1,1033.1 1066.5,1063.8 1067.0,1080.4 1067.4,1077.0 1067.9,1090.9 1068.4,1087.3 1068.8,1101.7 1069.3,1039.0 1069.7,1048.1 1070.2,1063.8 1070.6,1105.3 1071.1,1083.9 1071.5,1033.1 1072.0,1090.9 1072.4,1083.9 1072.9,1042.0 1073.3,1008.0 1073.8,1087.3 1074.2,1077.0 1074.7,1136.6 1075.1,1140.7 1075.6,1045.0 1076.0,1051.2 1076.5,1030.2 1076.9,1063.8 1077.4,1054.3 1077.9,1039.0 1078.3,1094.4 1078.8,1080.4 1079.2,1024.5 1079.7,1073.7 1080.1,1124.5 1080.6,1067.1 1081.0,1073.7 1081.5,1048.1 1081.9,1109.1 1082.3,1080.4 1082.8,1067.1 1083.2,1090.9 1083.7,1070.4 1084.1,1090.9 1084.6,1067.1 1085.0,1112.9 1085.5,1073.7 1085.9,1039.0 1086.4,1124.5 1086.8,1128.5 1087.3,977.4 1087.7,1087.3 1088.2,1033.1 1088.6,1140.7 1089.1,1109.1 1089.5,1109.1 1090.0,1087.3 1090.4,1094.4 1090.9,1105.3 1091.3,1036.1 1091.7,1060.6 1092.2,1054.3 1092.6,1094.4 1093.1,1080.4 1093.5,1112.9 1094.0,1063.8 1094.4,1094.4 1094.9,1048.1 1095.3,1132.5 1095.8,1036.1 1096.2,1090.9 1096.6,1045.0 1097.1,1039.0 1097.5,1087.3 1098.0,1080.4 1098.4,1098.0 1098.9,1060.6 1099.3,1063.8 1099.8,1090.9 1100.2,1057.4 1100.6,1132.5 1101.1,1057.4 1101.5,1101.7 1102.0,1109.1 1102.4,1090.9 1102.9,1077.0 1103.3,1021.7 1103.7,1008.0 1104.2,1120.6 1104.6,1105.3 1105.1,1073.7 1105.5,1087.3 1105.9,1033.1 1106.4,1098.0 1106.8,1080.4 1107.3,1067.1 1107.7,1098.0 1108.1,1070.4 1108.6,1073.7 1109.0,1098.0 1109.5,1105.3 1109.9,1021.7 1110.3,1045.0 1110.8,1080.4 1111.2,1124.5 1111.7,1054.3 1112.1,1063.8 1112.5,1067.1 1113.0,1063.8 1113.4,1060.6 1113.9,1094.4 1114.3,1105.3 1114.7,1067.1 1115.2,1042.0 1115.6,1094.4 1116.0,1132.5 1116.5,1109.1 1116.9,1048.1 1117.4,1060.6 1117.8,1077.0 1118.2,1083.9 1118.7,1101.7 1119.1,1116.7 1119.5,1105.3 1120.0,1109.1 1120.4,1087.3 1120.9,1080.4 1121.3,1080.4 1121.7,1060.6 1122.2,1105.3 1122.6,1057.4 1123.0,1048.1 1123.5,1090.9 1123.9,1080.4 1124.3,1080.4 1124.8,1039.0 1125.2,1024.5 1125.6,1157.9 1126.1,1077.0 1126.5,1067.1 1126.9,1048.1 1127.4,1101.7 1127.8,1073.7 1128.2,1080.4 1128.7,1067.1 1129.1,1070.4 1129.5,1077.0 1130.0,1094.4 1130.4,1128.5 1130.8,1024.5 1131.3,1060.6 1131.7,1109.1 1132.1,1030.2 1132.6,1060.6 1133.0,1080.4 1133.4,1098.0 1133.9,1101.7 1134.3,1112.9 1134.7,1073.7 1135.2,1105.3 1135.6,1132.5 1136.0,1027.4 1136.5,1063.8 1136.9,1060.6 1137.3,1112.9 1137.7,1083.9 1138.2,1077.0 1138.6,1185.7 1139.0,1067.1 1139.5,1033.1 1139.9,1112.9 1140.3,1109.1 1140.8,1083.9 1141.2,1080.4 1141.6,1109.1 1142.0,1094.4 1142.5,1042.0 1142.9,1083.9 1143.3,1045.0 1143.8,1054.3 1144.2,1101.7 1144.6,1101.7 1145.0,1083.9 1145.5,1112.9 1145.9,1048.1 1146.3,1132.5 1146.7,1120.6 1147.2,1132.5 1147.6,1087.3 1148.0,1087.3 1148.5,1045.0 1148.9,1140.7 1149.3,1033.1 1149.7,1051.2 1150.2,1048.1 1150.6,1136.6 1151.0,1057.4 1151.4,1205.7 1151.9,1098.0 1152.3,1101.7 1152.7,1021.7 1153.1,1080.4 1153.6,1060.6 1154.0,1060.6 1154.4,1067.1 1154.8,1090.9 1155.3,1109.1 1155.7,1090.9 1156.1,1080.4 1156.5,1051.2 1157.0,1045.0 1157.4,1067.1 1157.8,1083.9 1158.2,1112.9 1158.6,1073.7 1159.1,1136.6 1159.5,1048.1 1159.9,1098.0 1160.3,1070.4 1160.8,1132.5 1161.2,1109.1 1161.6,1136.6 1162.0,1077.0 1162.5,1073.7 1162.9,1036.1 1163.3,1128.5 1163.7,1098.0 1164.1,1073.7 1164.6,1080.4 1165.0,1098.0 1165.4,1083.9 1165.8,1057.4 1166.2,1083.9 1166.7,1090.9 1167.1,1109.1 1167.5,1080.4 1167.9,1045.0 1168.3,1098.0 1168.8,1109.1 1169.2,1042.0 1169.6,1149.2 1170.0,1063.8 1170.4,1080.4 1170.9,1087.3 1171.3,1094.4 1171.7,1087.3 1172.1,1112.9 1172.5,1057.4 1172.9,1144.9 1173.4,1166.9 1173.8,1057.4 1174.2,1060.6 1174.6,1045.0 1175.0,1120.6 1175.5,1090.9 1175.9,1073.7 1176.3,1083.9 1176.7,1153.5 1177.1,1042.0 1177.5,1098.0 1178.0,1087.3 1178.4,1080.4 1178.8,1166.9 1179.2,1083.9 1179.6,1105.3 1180.0,1039.0 1180.5,1070.4 1180.9,1112.9 1181.3,1051.2 1181.7,1087.3 1182.1,1057.4 1182.5,1090.9 1182.9,1109.1 1183.4,1030.2 1183.8,1098.0 1184.2,1101.7 1184.6,1083.9 1185.0,1132.5 1185.4,1109.1 1185.8,1101.7 1186.3,1060.6 1186.7,1144.9 1187.1,1124.5 1187.5,1083.9 1187.9,1109.1 1188.3,1157.9 1188.7,1132.5 1189.1,1116.7 1189.6,1112.9 1190.0,1098.0 1190.4,1077.0 1190.8,1098.0 1191.2,1067.1 1191.6,1067.1 1192.0,1157.9 1192.4,1070.4 1192.9,1098.0 1193.3,1132.5 1193.7,1060.6 1194.1,1083.9 1194.5,1073.7 1194.9,1132.5 1195.3,1109.1 1195.7,1094.4 1196.1,1157.9 1196.6,1036.1 1197.0,1128.5 1197.4,1030.2 1197.8,1128.5 1198.2,1112.9 1198.6,1083.9 1199.0,1024.5 1199.4,1136.6 1199.8,1098.0 1200.2,1101.7 1200.6,1070.4 1201.1,1098.0 1201.5,1080.4 1201.9,1057.4 1202.3,1098.0 1202.7,1070.4 1203.1,1109.1 1203.5,1090.9 1203.9,1042.0 1204.3,1105.3 1204.7,1057.4 1205.1,1087.3 1205.5,1101.7 1205.9,1087.3 1206.4,1073.7 1206.8,1094.4 1207.2,1090.9 1207.6,1116.7 1208.0,1067.1 1208.4,1128.5 1208.8,1054.3 1209.2,1060.6 1209.6,1190.6 1210.0,1083.9 1210.4,1128.5 1210.8,1077.0 1211.2,1101.7 1211.6,1101.7 1212.0,1128.5 1212.4,1077.0 1212.8,1149.2 1213.2,1060.6 1213.7,1136.6 1214.1,1153.5 1214.5,1105.3 1214.9,1051.2 1215.3,1094.4 1215.7,1070.4 1216.1,1101.7 1216.5,1067.1 1216.9,1083.9 1217.3,1094.4 1217.7,1116.7 1218.1,1124.5 1218.5,1166.9 1218.9,1094.4 1219.3,1033.1 1219.7,1176.1 1220.1,1109.1 1220.5,1077.0 1220.9,1063.8 1221.3,1128.5 1221.7,1132.5 1222.1,1098.0 1222.5,1073.7 1222.9,1094.4 1223.3,1101.7 1223.7,1057.4 1224.1,1098.0 1224.5,1140.7 1224.9,992.3 1225.3,1048.1 1225.7,1094.4 1226.1,1157.9 1226.5,1087.3 1226.9,1087.3 1227.3,1149.2 1227.7,1157.9 1228.1,1216.3 1228.5,1153.5 1228.9,1116.7 1229.3,1048.1 1229.7,1144.9 1230.1,1045.0 1230.5,1136.6 1230.9,1083.9 1231.3,1200.6 1231.7,1087.3 1232.1,1124.5 1232.5,1116.7 1232.9,1087.3 1233.3,1060.6 1233.7,1109.1 1234.1,1087.3 1234.5,1128.5 1234.9,1101.7 1235.3,1090.9 1235.7,1077.0 1236.1,1070.4 1236.5,1128.5 1236.9,1057.4 1237.3,1149.2 1237.7,1128.5 1238.0,1098.0 1238.4,1070.4 1238.8,1073.7 1239.2,1051.2 1239.6,1128.5 1240.0,1132.5 1240.4,1112.9 1240.8,1080.4 1241.2,1094.4 1241.6,1087.3 1242.0,1120.6 1242.4,1105.3 1242.8,1120.6 1243.2,1067.1 1243.6,1128.5 1244.0,1120.6 1244.4,1094.4 1244.8,1101.7 1245.2,1124.5 1245.5,1073.7 1245.9,1120.6 1246.3,1120.6 1246.7,1112.9 1247.1,1140.7 1247.5,1153.5 1247.9,1120.6 1248.3,1109.1 1248.7,1063.8 1249.1,1057.4 1249.5,1149.2 1249.9,1140.7 1250.3,1090.9 1250.6,1080.4 1251.0,1128.5 1251.4,1087.3 1251.8,1070.4 1252.2,1098.0 1252.6,1080.4 1253.0,1171.5 1253.4,1112.9 1253.8,1036.1 1254.2,1070.4 1254.6,1112.9 1254.9,1101.7 1255.3,1153.5 1255.7,1101.7 1256.1,1105.3 1256.5,1051.2 1256.9,1077.0 1257.3,1112.9 1257.7,1098.0 1258.1,1124.5 1258.4,1120.6 1258.8,1128.5 1259.2,1144.9 1259.6,1083.9 1260.0,1077.0 1260.4,1109.1 1260.8,1128.5 1261.2,1101.7 1261.6,1185.7 1261.9,1128.5 1262.3,1157.9 1262.7,1083.9 1263.1,1027.4 1263.5,1120.6 1263.9,1073.7 1264.3,1094.4 1264.7,1080.4 1265.0,1094.4 1265.4,1109.1 1265.8,1070.4 1266.2,1124.5 1266.6,1054.3 1267.0,1083.9 1267.4,1120.6 1267.7,1087.3 1268.1,1070.4 1268.5,1144.9 1268.9,1033.1 1269.3,1116.7 1269.7,1070.4 1270.1,1128.5 1270.4,1077.0 1270.8,1098.0 1271.2,1101.7 1271.6,1098.0 1272.0,1083.9 1272.4,1124.5 1272.7,1157.9 1273.1,1116.7 1273.5,1070.4 1273.9,1109.1 1274.3,1112.9 1274.7,1101.7 1275.0,1087.3 1275.4,1080.4 1275.8,1080.4 1276.2,1105.3 1276.6,1098.0 1277.0,1094.4 1277.3,1157.9 1277.7,1080.4 1278.1,1036.1 1278.5,1149.2 1278.9,1101.7 1279.3,1098.0 1279.6,1153.5 1280.0,1162.4 1280.4,1124.5 1280.8,1116.7 1281.2,1128.5 1281.5,1033.1 1281.9,1112.9 1282.3,1132.5 1282.7,1109.1 1283.1,1094.4 1283.4,1128.5 1283.8,1153.5 1284.2,1087.3 1284.6,1140.7 1285.0,1162.4 1285.3,1128.5 1285.7,1195.5 1286.1,1087.3 1286.5,1124.5 1286.9,1030.2 1287.2,1136.6 1287.6,1136.6 1288.0,1094.4 1288.4,1073.7 1288.8,1162.4 1289.1,1116.7 1289.5,1080.4 1289.9,1077.0 1290.3,1083.9 1290.6,1128.5 1291.0,1101.7 1291.4,1070.4 1291.8,1098.0 1292.2,1149.2 1292.5,1098.0 1292.9,1132.5 1293.3,1124.5 1293.7,1073.7 1294.0,1128.5 1294.4,1128.5 1294.8,1116.7 1295.2,1098.0 1295.5,1112.9 1295.9,1033.1 1296.3,1157.9 1296.7,1077.0 1297.0,1149.2 1297.4,1109.1 1297.8,1120.6 1298.2,1080.4 1298.5,1132.5 1298.9,1098.0 1299.3,1021.7 1299.7,1080.4 1300.0,1128.5 1300.4,1048.1 1300.8,1153.5 1301.2,1124.5 1301.5,1090.9 1301.9,1112.9 1302.3,1080.4 1302.7,1070.4 1303.0,1120.6 1303.4,1083.9 1303.8,1094.4 1304.2,1153.5 1304.5,1116.7 1304.9,1116.7 1305.3,1051.2 1305.7,1063.8 1306.0,1077.0 1306.4,1090.9 1306.8,1057.4 1307.1,1109.1 1307.5,1120.6 1307.9,1124.5 1308.3,1098.0 1308.6,1070.4 1309.0,1090.9 1309.4,1128.5 1309.7,1120.6 1310.1,1180.9 1310.5,1083.9 1310.9,1101.7 1311.2,1087.3 1311.6,1112.9 1312.0,1101.7 1312.3,1132.5 1312.7,1157.9 1313.1,1060.6 1313.4,1132.5 1313.8,1124.5 1314.2,1124.5 1314.6,1070.4 1314.9,1101.7 1315.3,1087.3 1315.7,1112.9 1316.0,1036.1 1316.4,1080.4 1316.8,1132.5 1317.1,1120.6 1317.5,1144.9 1317.9,1109.1 1318.2,1109.1 1318.6,1124.5 1319.0,1109.1 1319.4,1124.5 1319.7,1098.0 1320.1,1080.4 1320.5,1087.3 1320.8,1067.1 1321.2,1124.5 1321.6,1109.1 1321.9,1120.6 1322.3,1132.5 1322.7,1171.5 1323.0,1144.9 1323.4,1045.0 1323.8,1116.7 1324.1,1101.7 1324.5,1132.5 1324.9,1124.5 1325.2,1144.9 1325.6,1083.9 1326.0,1124.5 1326.3,1094.4 1326.7,1116.7 1327.1,1140.7 1327.4,1109.1 1327.8,1077.0 1328.1,1087.3 1328.5,1116.7 1328.9,1140.7 1329.2,1132.5 1329.6,1094.4 1330.0,1077.0 1330.3,1128.5 1330.7,1128.5 1331.1,1087.3 1331.4,1083.9 1331.8,1063.8 1332.2,1070.4 1332.5,1109.1 1332.9,1120.6 1333.2,1098.0 1333.6,1080.4 1334.0,1157.9 1334.3,1116.7 1334.7,1057.4 1335.1,1073.7 1335.4,1153.5 1335.8,1132.5 1336.1,1070.4 1336.5,1070.4 1336.9,1077.0 1337.2,1101.7 1337.6,1105.3 1338.0,1140.7 1338.3,1162.4 1338.7,1073.7 1339.0,1128.5 1339.4,1120.6 1339.8,1080.4 1340.1,1136.6 1340.5,1105.3 1340.8,1109.1 1341.2,1116.7 1341.6,1073.7 1341.9,1132.5 1342.3,1101.7 1342.6,1132.5 1343.0,1136.6 1343.4,1120.6 1343.7,1060.6 1344.1,1190.6 1344.4,1112.9 1344.8,1128.5 1345.2,1080.4 1345.5,1109.1 1345.9,1101.7 1346.2,1077.0 1346.6,1045.0 1347.0,1060.6 1347.3,1153.5 1347.7,1132.5 1348.0,1149.2 1348.4,1087.3 1348.7,1185.7 1349.1,1083.9 1349.5,1045.0 1349.8,1083.9 1350.2,1171.5 1350.5,1077.0 1350.9,1112.9 1351.2,1162.4 1351.6,1120.6 1352.0,1109.1 1352.3,1083.9 1352.7,1101.7 1353.0,1083.9 1353.4,1124.5 1353.7,1051.2 1354.1,1149.2 1354.5,1105.3 1354.8,1157.9 1355.2,1067.1 1355.5,1101.7 1355.9,1140.7 1356.2,1080.4 1356.6,1153.5 1356.9,1128.5 1357.3,1098.0 1357.7,1153.5 1358.0,1098.0 1358.4,1171.5 1358.7,1132.5 1359.1,1109.1 1359.4,1101.7 1359.8,1112.9 1360.1,1171.5 1360.5,1098.0 1360.8,1136.6 1361.2,1083.9 1361.5,1116.7 1361.9,1080.4 1362.3,1153.5 1362.6,1077.0 1363.0,1087.3 1363.3,1098.0 1363.7,1185.7 1364.0,1162.4 1364.4,1124.5 1364.7,1105.3 1365.1,1036.1 1365.4,1087.3 1365.8,1083.9 1366.1,1094.4 1366.5,1101.7 1366.8,1073.7 1367.2,1116.7 1367.5,1042.0 1367.9,1140.7 1368.2,1171.5 1368.6,1090.9 1368.9,1136.6 1369.3,1144.9 1369.6,1098.0 1370.0,1090.9 1370.3,1083.9 1370.7,1136.6 1371.0,1162.4 1371.4,1087.3 1371.7,1054.3 1372.1,1132.5 1372.4,1180.9 1372.8,1136.6 1373.1,1077.0 1373.5,1109.1 1373.8,1077.0 1374.2,1116.7 1374.5,1124.5 1374.9,1073.7 1375.2,1051.2 1375.6,1090.9 1375.9,1116.7 1376.3,1070.4 1376.6,1039.0 1377.0,1180.9 1377.3,1073.7 1377.7,1128.5 1378.0,1090.9 1378.4,1149.2 1378.7,1098.0 1379.1,1063.8 1379.4,1132.5 1379.8,1116.7 1380.1,1140.7 1380.5,1087.3 1380.8,1109.1 1381.2,1070.4 1381.5,1105.3 1381.8,1077.0 1382.2,1116.7 1382.5,1120.6 1382.9,1073.7 1383.2,1149.2 1383.6,1112.9 1383.9,1054.3 1384.3,1171.5 1384.6,1094.4 1385.0,1105.3 1385.3,1048.1 1385.7,1109.1 1386.0,1132.5 1386.3,1132.5 1386.7,1116.7 1387.0,1101.7 1387.4,1128.5 1387.7,1136.6 1388.1,1045.0 1388.4,1157.9 1388.8,1149.2 1389.1,1116.7 1389.4,1073.7 1389.8,1166.9 1390.1,1116.7 1390.5,1101.7 1390.8,1124.5 1391.2,1166.9 1391.5,1136.6 1391.8,1116.7 1392.2,1120.6 1392.5,1132.5 1392.9,1144.9 1393.2,1116.7 1393.6,1153.5 1393.9,1176.1 1394.2,1080.4 1394.6,1094.4 1394.9,1077.0 1395.3,1112.9 1395.6,1140.7 1396.0,1051.2 1396.3,1080.4 1396.6,1073.7 1397.0,1195.5 1397.3,1109.1 1397.7,1109.1 1398.0,1132.5 1398.3,1124.5 1398.7,1105.3 1399.0,1094.4 1399.4,1090.9 1399.7,1070.4 1400.0,1109.1 1400.4,1109.1 1400.7,1098.0 1401.1,1087.3 1401.4,1171.5 1401.7,1109.1 1402.1,1185.7 1402.4,1036.1 1402.8,1105.3 1403.1,1101.7 1403.4,1128.5 1403.8,1136.6 1404.1,1112.9 1404.5,1105.3 1404.8,1109.1 1405.1,1090.9 1405.5,1083.9 1405.8,1140.7 1406.2,1128.5 1406.5,1124.5 1406.8,1083.9 1407.2,1098.0 1407.5,1128.5 1407.8,1073.7 1408.2,1080.4 1408.5,1083.9 1408.9,1112.9 1409.2,1116.7 1409.5,1105.3 1409.9,1128.5 1410.2,1132.5 1410.5,1176.1 1410.9,1112.9 1411.2,1124.5 1411.5,1090.9 1411.9,1128.5 1412.2,1124.5 1412.6,1090.9 1412.9,1098.0 1413.2,1073.7 1413.6,1008.0 1413.9,1109.1 1414.2,1136.6 1414.6,1176.1 1414.9,1153.5 1415.2,1109.1 1415.6,1124.5 1415.9,1101.7 1416.2,1162.4 1416.6,1077.0 1416.9,1094.4 1417.2,1153.5 1417.6,1094.4 1417.9,1105.3 1418.3,1090.9 1418.6,1195.5 1418.9,1124.5 1419.3,1144.9 1419.6,1077.0 1419.9,1153.5 1420.3,1153.5 1420.6,1083.9 1420.9,1098.0 1421.3,1144.9 1421.6,1109.1 1421.9,1116.7 1422.3,1180.9 1422.6,1190.6 1422.9,1157.9 1423.2,1185.7 1423.6,1128.5 1423.9,1124.5 1424.2,1109.1 1424.6,1128.5 1424.9,1080.4 1425.2,1128.5 1425.6,1109.1 1425.9,1109.1 1426.2,1195.5 1426.6,1149.2 1426.9,1166.9 1427.2,1132.5 1427.6,1109.1 1427.9,1144.9 1428.2,1166.9 1428.6,1157.9 1428.9,1080.4 1429.2,1073.7 1429.5,1077.0 1429.9,1116.7 1430.2,1185.7 1430.5,1140.7 1430.9,1238.5 1431.2,1149.2 1431.5,1136.6 1431.9,1060.6 1432.2,1144.9 1432.5,1157.9 1432.8,1132.5 1433.2,1060.6 1433.5,1116.7 1433.8,1073.7 1434.2,1098.0 1434.5,1060.6 1434.8,1094.4 1435.1,1101.7 1435.5,1098.0 1435.8,1101.7 1436.1,1112.9 1436.5,1128.5 1436.8,1109.1 1437.1,1132.5 1437.4,1144.9 1437.8,1176.1 1438.1,1136.6 1438.4,1120.6 1438.7,1077.0 1439.1,1070.4 1439.4,1112.9 1439.7,1109.1 1440.0,1112.9 1440.4,1166.9 1440.7,1101.7 1441.0,1153.5 1441.4,1070.4 1441.7,1180.9 1442.0,1109.1 1442.3,1109.1 1442.7,1171.5 1443.0,1205.7 1443.3,1087.3 1443.6,1153.5 1444.0,1080.4 1444.3,1116.7 1444.6,1124.5 1444.9,1136.6 1445.3,1112.9 1445.6,1060.6 1445.9,1094.4 1446.2,1105.3 1446.6,1090.9 1446.9,1087.3 1447.2,1116.7 1447.5,1128.5 1447.9,1180.9 1448.2,1094.4 1448.5,1124.5 1448.8,1120.6 1449.2,1073.7 1449.5,1112.9 1449.8,1132.5 1450.1,1120.6 1450.5,1060.6 1450.8,1077.0 1451.1,1120.6 1451.4,1090.9 1451.8,1128.5 1452.1,1063.8 1452.4,1120.6 1452.7,1140.7 1453.1,1153.5 1453.4,1128.5 1453.7,1073.7 1454.0,1087.3 1454.4,1132.5 1454.7,1090.9 1455.0,1166.9 1455.3,1140.7 1455.7,1190.6 1456.0,1087.3 1456.3,1057.4 1456.6,1080.4 1457.0,1094.4 1457.3,1120.6 1457.6,1112.9 1458.0,1083.9 1458.3,1094.4 1458.6,1128.5 1458.9,1166.9 1459.3,1112.9 1459.6,1116.7 1459.9,1162.4 1460.2,1128.5 1460.6,1109.1 1460.9,1087.3 1461.2,1101.7 1461.5,1116.7 1461.9,1090.9 1462.2,1185.7 1462.5,1116.7 1462.8,1105.3 1463.2,1120.6 1463.5,1116.7 1463.8,1090.9 1464.1,1109.1 1464.5,1157.9 1464.8,1157.9 1465.1,1105.3 1465.4,1190.6 1465.8,1105.3 1466.1,1140.7 1466.4,1109.1 1466.7,1120.6 1467.1,1120.6 1467.4,1094.4 1467.7,1116.7 1468.0,1057.4 1468.4,1098.0 1468.7,1149.2 1469.0,1101.7 1469.3,1112.9 1469.7,1109.1 1470.0,1166.9 1470.3,1109.1 1470.6,1087.3 1471.0,1101.7 1471.3,1094.4 1471.6,1166.9 1471.9,1132.5 1472.3,1128.5 1472.6,1120.6 1472.9,1132.5 1473.2,1140.7 1473.6,1060.6 1473.9,1124.5 1474.2,1094.4 1474.5,1136.6 1474.9,1105.3 1475.2,1112.9 1475.5,1132.5 1475.8,1128.5 1476.2,1153.5 1476.5,1063.8 1476.8,1109.1 1477.1,1216.3 1477.5,1109.1 1477.8,1136.6 1478.1,1087.3 1478.4,1176.1 1478.8,1101.7 1479.1,1073.7 1479.4,1073.7 1479.8,1105.3 1480.1,1166.9 1480.4,1132.5 1480.7,1036.1 1481.1,1080.4 1481.4,1090.9 1481.7,1087.3 1482.0,1124.5 1482.4,1140.7 1482.7,1105.3 1483.0,1112.9 1483.3,1083.9 1483.7,1098.0 1484.0,1057.4 1484.3,1080.4 1484.6,1144.9 1485.0,1136.6 1485.3,1132.5 1485.6,1128.5 1485.9,1098.0 1486.3,1051.2 1486.6,1105.3 1486.9,1098.0 1487.2,1149.2 1487.6,1136.6 1487.9,1132.5 1488.2,1128.5 1488.5,1109.1 1488.9,1067.1 1489.2,1140.7 1489.5,1120.6 1489.8,1124.5 1490.2,1153.5 1490.5,1190.6 1490.8,1105.3 1491.1,1132.5 1491.5,1124.5 1491.8,1070.4 1492.1,1073.7 1492.4,1128.5 1492.8,1054.3 1493.1,1067.1 1493.4,1180.9 1493.7,1136.6 1494.1,1185.7 1494.4,1109.1 1494.7,1098.0 1495.0,1153.5 1495.4,1140.7 1495.7,1166.9 1496.0,1136.6 1496.3,1067.1 1496.7,1109.1 1497.0,1144.9 1497.3,1070.4 1497.6,1128.5 1498.0,1128.5 1498.3,1083.9 1498.6,1109.1 1498.9,1101.7 1499.3,1109.1 1499.6,1205.7 1499.9,1077.0 1500.2,1124.5 1500.6,1124.5 1500.9,1101.7 1501.2,1105.3 1501.5,1153.5 1501.9,1090.9 1502.2,1101.7 1502.5,1090.9 1502.9,1136.6 1503.2,1128.5 1503.5,1077.0 1503.8,1140.7 1504.2,1112.9 1504.5,1109.1 1504.8,1090.9 1505.1,1124.5 1505.5,1070.4 1505.8,1073.7 1506.1,1136.6 1506.4,1116.7 1506.8,1112.9 1507.1,1073.7 1507.4,1128.5 1507.7,1101.7 1508.1,1073.7 1508.4,1124.5 1508.7,1153.5 1509.0,1144.9 1509.4,1094.4 1509.7,1200.6 1510.0,1176.1 1510.3,1105.3 1510.7,1166.9 1511.0,1132.5 1511.3,1221.7 1511.6,1244.4 1512.0,1166.9 1512.3,1098.0 1512.6,1116.7 1512.9,1083.9 1513.3,1101.7 1513.6,1109.1 1513.9,1128.5 1514.2,1140.7 1514.6,1105.3 1514.9,1120.6 1515.2,1128.5 1515.5,1105.3 1515.9,1124.5 1516.2,1094.4 1516.5,1166.9 1516.8,1132.5 1517.2,1136.6 1517.5,1070.4 1517.8,1105.3 1518.1,1105.3 1518.5,1010.7 1518.8,1054.3 1519.1,1090.9 1519.4,1098.0 1519.8,1128.5 1520.1,1232.8 1520.4,1256.4 1520.7,1105.3 1521.1,1073.7 1521.4,1120.6 1521.7,1070.4 1522.0,1116.7 1522.4,1166.9 1522.7,1166.9 1523.0,1105.3 1523.3,1144.9 1523.7,1090.9 1524.0,1045.0 1524.3,1132.5 1524.6,1101.7 1525.0,1132.5 1525.3,1098.0 1525.6,1109.1 1526.0,1149.2 1526.3,1090.9 1526.6,1144.9 1526.9,1116.7 1527.3,1112.9 1527.6,1070.4 1527.9,1080.4 1528.2,1090.9 1528.6,1124.5 1528.9,1149.2 1529.2,1042.0 1529.5,1098.0 1529.9,1144.9 1530.2,1073.7 1530.5,1166.9 1530.8,1132.5 1531.2,1048.1 1531.5,1140.7 1531.8,1112.9 1532.1,1132.5 1532.5,1116.7 1532.8,1073.7 1533.1,1132.5 1533.4,1149.2 1533.8,1140.7 1534.1,1116.7 1534.4,1144.9 1534.7,1087.3 1535.1,1136.6 1535.4,1112.9 1535.7,1149.2 1536.0,1112.9 1536.4,1136.6 1536.7,1132.5 1537.0,1120.6 1537.3,1101.7 1537.7,1144.9 1538.0,1171.5 1538.3,1132.5 1538.6,1090.9 1539.0,1190.6 1539.3,1120.6 1539.6,1180.9 1539.9,1087.3 1540.3,1128.5 1540.6,1083.9 1540.9,1140.7 1541.2,1105.3 1541.6,1073.7 1541.9,1073.7 1542.2,1140.7 1542.5,1144.9 1542.9,1162.4 1543.2,1190.6 1543.5,1171.5 1543.8,1162.4 1544.2,1105.3 1544.5,1060.6 1544.8,1149.2 1545.1,1070.4 1545.5,1101.7 1545.8,1077.0 1546.1,1090.9 1546.4,1149.2 1546.8,1136.6 1547.1,1060.6 1547.4,1128.5 1547.8,1180.9 1548.1,1083.9 1548.4,1136.6 1548.7,1080.4 1549.1,1185.7 1549.4,1190.6 1549.7,1140.7 1550.0,1176.1 1550.4,1132.5 1550.7,1105.3 1551.0,1080.4 1551.3,1132.5 1551.7,1109.1 1552.0,1054.3 1552.3,1124.5 1552.6,1149.2 1553.0,1098.0 1553.3,1144.9 1553.6,1101.7 1553.9,1077.0 1554.3,1132.5 1554.6,1185.7 1554.9,1132.5 1555.2,1120.6 1555.6,1109.1 1555.9,1140.7 1556.2,1162.4 1556.5,1171.5 1556.9,1153.5 1557.2,1070.4 1557.5,1171.5 1557.8,1112.9 1558.2,1157.9 1558.5,1105.3 1558.8,1128.5 1559.1,1073.7 1559.5,1232.8 1559.8,1120.6 1560.1,1116.7 1560.4,1149.2 1560.8,1132.5 1561.1,1210.9 1561.4,1094.4 1561.7,1054.3 1562.1,1087.3 1562.4,1083.9 1562.7,1120.6 1563.0,1112.9 1563.4,1112.9 1563.7,1128.5 1564.0,1083.9 1564.3,1136.6 1564.7,1124.5 1565.0,1105.3 1565.3,1098.0 1565.6,1109.1 1566.0,1153.5 1566.3,1109.1 1566.6,1060.6 1566.9,1027.4 1567.3,1120.6 1567.6,1105.3 1567.9,1105.3 1568.2,1144.9 1568.6,1105.3 1568.9,1105.3 1569.2,1157.9 1569.5,1116.7 1569.9,1098.0 1570.2,1060.6 1570.5,1185.7 1570.9,1094.4 1571.2,1077.0 1571.5,1120.6 1571.8,1112.9 1572.2,1140.7 1572.5,1128.5 1572.8,1136.6 1573.1,1101.7 1573.5,1060.6 1573.8,1124.5 1574.1,1120.6 1574.4,1090.9 1574.8,1136.6 1575.1,1094.4 1575.4,1140.7 1575.7,1136.6 1576.1,1109.1 1576.4,1109.1 1576.7,1087.3 1577.0,1070.4 1577.4,1083.9 1577.7,1132.5 1578.0,1171.5 1578.3,1120.6 1578.7,1153.5 1579.0,1153.5 1579.3,1105.3 1579.6,1094.4 1580.0,1116.7 1580.3,1098.0 1580.6,1116.7 1580.9,1195.5 1581.3,1094.4 1581.6,1140.7 1581.9,1176.1 1582.2,1120.6 1582.6,1105.3 1582.9,1073.7 1583.2,1140.7 1583.5,1153.5 1583.9,1128.5 1584.2,1116.7 1584.5,1153.5 1584.8,1105.3 1585.2,1128.5 1585.5,1083.9 1585.8,1157.9 1586.1,1112.9 1586.5,1112.9 1586.8,1073.7 1587.1,1105.3 1587.4,1171.5 1587.8,1109.1 1588.1,1124.5 1588.4,1120.6 1588.7,1112.9 1589.1,1098.0 1589.4,1116.7 1589.7,1176.1 1590.0,1116.7 1590.4,1153.5 1590.7,1124.5 1591.0,1128.5 1591.3,1094.4 1591.7,1116.7 1592.0,1060.6 1592.3,1067.1 1592.7,1132.5 1593.0,1070.4 1593.3,1098.0 1593.6,1112.9 1594.0,1124.5 1594.3,1128.5 1594.6,1124.5 1594.9,1153.5 1595.3,1098.0 1595.6,1128.5 1595.9,1176.1 1596.2,1166.9 1596.6,1098.0 1596.9,1120.6 1597.2,1144.9 1597.5,1112.9 1597.9,1080.4 1598.2,1144.9 1598.5,1039.0 1598.8,1054.3 1599.2,1144.9 1599.5,1136.6 1599.8,1124.5 1600.1,1157.9 1600.5,1101.7 1600.8,1109.1 1601.1,1087.3 1601.4,1153.5 1601.8,1136.6 1602.1,1153.5 1602.4,1153.5 1602.7,1256.4 1603.1,1185.7 1603.4,1180.9 1603.7,1132.5 1604.0,1087.3 1604.4,1120.6 1604.7,1140.7 1605.0,1087.3 1605.3,1101.7 1605.7,1157.9 1606.0,1128.5 1606.3,1087.3 1606.6,1128.5 1607.0,1128.5 1607.3,1101.7 1607.6,1140.7 1607.9,1087.3 1608.3,1098.0 1608.6,1132.5 1608.9,1195.5 1609.2,1083.9 1609.6,1144.9 1609.9,1185.7 1610.2,1136.6 1610.5,1109.1 1610.9,1124.5 1611.2,1166.9 1611.5,1054.3 1611.8,1144.9 1612.2,1109.1 1612.5,1153.5 1612.8,1077.0 1613.1,1176.1 1613.5,1185.7 1613.8,1116.7 1614.1,1140.7 1614.4,1157.9 1614.8,1120.6 1615.1,1109.1 1615.4,1124.5 1615.8,1098.0 1616.1,1140.7 1616.4,1149.2 1616.7,1120.6 1617.1,1157.9 1617.4,1180.9 1617.7,1149.2 1618.0,1109.1 1618.4,1205.7 1618.7,1144.9 1619.0,1124.5 1619.3,1090.9 1619.7,1120.6 1620.0,1116.7 1620.3,1171.5 1620.6,1112.9 1621.0,1098.0 1621.3,1157.9 1621.6,1140.7 1621.9,1185.7 1622.3,1124.5 1622.6,1083.9 1622.9,1144.9 1623.2,1153.5 1623.6,1144.9 1623.9,1124.5 1624.2,1200.6 1624.5,1124.5 1624.9,1094.4 1625.2,1116.7 1625.5,1144.9 1625.8,1090.9 1626.2,1098.0 1626.5,1149.2 1626.8,1128.5 1627.1,1120.6 1627.5,1073.7 1627.8,1128.5 1628.1,1124.5 1628.4,1128.5 1628.8,1105.3 1629.1,1120.6 1629.4,1166.9 1629.7,1120.6 1630.1,1185.7 1630.4,1120.6 1630.7,1180.9 1631.0,1105.3 1631.4,1112.9 1631.7,1140.7 1632.0,1090.9 1632.3,1105.3 1632.7,1094.4 1633.0,1112.9 1633.3,1112.9 1633.6,1120.6 1634.0,1105.3 1634.3,1144.9 1634.6,1067.1 1634.9,1116.7 1635.3,1162.4 1635.6,1090.9 1635.9,1136.6 1636.2,1157.9 1636.6,1153.5 1636.9,1105.3 1637.2,1124.5 1637.5,1171.5 1637.9,1157.9 1638.2,1124.5 1638.5,1109.1 1638.9,1166.9 1639.2,1112.9 1639.5,1144.9 1639.8,1166.9 1640.2,1185.7 1640.5,1162.4 1640.8,1149.2 1641.1,1128.5 1641.5,1195.5 1641.8,1157.9 1642.1,1087.3 1642.4,1105.3 1642.8,1153.5 1643.1,1101.7 1643.4,1132.5 1643.7,1116.7 1644.1,1070.4 1644.4,1128.5 1644.7,1144.9 1645.0,1080.4 1645.4,1073.7 1645.7,1128.5 1646.0,1180.9 1646.3,1132.5 1646.7,1080.4 1647.0,1157.9 1647.3,1132.5 1647.6,1140.7 1648.0,1140.7 1648.3,1090.9 1648.6,1077.0 1648.9,1180.9 1649.3,1171.5 1649.6,1190.6 1649.9,1180.9 1650.2,1153.5 1650.6,1149.2 1650.9,1120.6 1651.2,1140.7 1651.5,1132.5 1651.9,1153.5 1652.2,1232.8 1652.5,1153.5 1652.8,1063.8 1653.2,1073.7 1653.5,1120.6 1653.8,1149.2 1654.1,1124.5 1654.5,1132.5 1654.8,1140.7 1655.1,1083.9 1655.4,1098.0 1655.8,1098.0 1656.1,1149.2 1656.4,1105.3 1656.7,1120.6 1657.1,1166.9 1657.4,1136.6 1657.7,1105.3 1658.0,1116.7 1658.4,1140.7 1658.7,1128.5 1659.0,1180.9 1659.3,1120.6 1659.7,1149.2 1660.0,1205.7 1660.3,1149.2 1660.7,1116.7 1661.0,1101.7 1661.3,1060.6 1661.6,1136.6 1662.0,1144.9 1662.3,1128.5 1662.6,1166.9 1662.9,1070.4 1663.3,1200.6 1663.6,1080.4 1663.9,1073.7 1664.2,1112.9 1664.6,1128.5 1664.9,1109.1 1665.2,1094.4 1665.5,1140.7 1665.9,1149.2 1666.2,1109.1 1666.5,1045.0 1666.8,1112.9 1667.2,1120.6 1667.5,1140.7 1667.8,1098.0 1668.1,1116.7 1668.5,1105.3 1668.8,1128.5 1669.1,1140.7 1669.4,1098.0 1669.8,1105.3 1670.1,1109.1 1670.4,1136.6 1670.7,1083.9 1671.1,1112.9 1671.4,1132.5 1671.7,1098.0 1672.0,1101.7 1672.4,1109.1 1672.7,1171.5 1673.0,1153.5 1673.3,1153.5 1673.7,1140.7 1674.0,1149.2 1674.3,1195.5 1674.6,1116.7 1675.0,1077.0 1675.3,1176.1 1675.6,1124.5 1675.9,1094.4 1676.3,1124.5 1676.6,1087.3 1676.9,1101.7 1677.2,1120.6 1677.6,1132.5 1677.9,1157.9 1678.2,1171.5 1678.5,1070.4 1678.9,1067.1 1679.2,1124.5 1679.5,1140.7 1679.8,1042.0 1680.2,1083.9 1680.5,1136.6 1680.8,1140.7 1681.1,1128.5 1681.5,1112.9 1681.8,1128.5 1682.1,1105.3 1682.4,1136.6 1682.8,1124.5 1683.1,1153.5 1683.4,1087.3 1683.8,1124.5 1684.1,1090.9 1684.4,1190.6 1684.7,1073.7 1685.1,1112.9 1685.4,1057.4 1685.7,1087.3 1686.0,1136.6 1686.4,1153.5 1686.7,1048.1 1687.0,1077.0 1687.3,1162.4 1687.7,1090.9 1688.0,1048.1 1688.3,1124.5 1688.6,1098.0 1689.0,1109.1 1689.3,1144.9 1689.6,1090.9 1689.9,1101.7 1690.3,1157.9 1690.6,1132.5 1690.9,1098.0 1691.2,1157.9 1691.6,1109.1 1691.9,1162.4 1692.2,1080.4 1692.5,1195.5 1692.9,1048.1 1693.2,1116.7 1693.5,1128.5 1693.8,1083.9 1694.2,1112.9 1694.5,1054.3 1694.8,1098.0 1695.1,1124.5 1695.5,1098.0 1695.8,1112.9 1696.1,1067.1 1696.4,1128.5 1696.8,1116.7 1697.1,1120.6 1697.4,1083.9 1697.7,1136.6 1698.1,1112.9 1698.4,1098.0 1698.7,1128.5 1699.0,1136.6 1699.4,1171.5 1699.7,1136.6 1700.0,1136.6 1700.3,1157.9 1700.7,1070.4 1701.0,1101.7 1701.3,1120.6 1701.6,1153.5 1702.0,1109.1 1702.3,1132.5 1702.6,1128.5 1702.9,1057.4 1703.3,1101.7 1703.6,1109.1 1703.9,1098.0 1704.2,1060.6 1704.6,1157.9 1704.9,1116.7 1705.2,1094.4 1705.5,1101.7 1705.9,1132.5 1706.2,1124.5 1706.5,1054.3 1706.9,1109.1 1707.2,1166.9 1707.5,1090.9 1707.8,1098.0 1708.2,1120.6 1708.5,1136.6 1708.8,1149.2 1709.1,1098.0 1709.5,1136.6 1709.8,1116.7 1710.1,1176.1 1710.4,1098.0 1710.8,1132.5 1711.1,1098.0 1711.4,1124.5 1711.7,1101.7 1712.1,1144.9 1712.4,1128.5 1712.7,1109.1 1713.0,1162.4 1713.4,1128.5 1713.7,1098.0 1714.0,1120.6 1714.3,1205.7 1714.7,1063.8 1715.0,1101.7 1715.3,1101.7 1715.6,1162.4 1716.0,1094.4 1716.3,1132.5 1716.6,1109.1 1716.9,1112.9 1717.3,1083.9 1717.6,1195.5 1717.9,1162.4 1718.2,1094.4 1718.6,1098.0 1718.9,1087.3 1719.2,1140.7 1719.5,1051.2 1719.9,1101.7 1720.2,1128.5 1720.5,1098.0 1720.8,1136.6 1721.2,1157.9 1721.5,1144.9 1721.8,1101.7 1722.1,1045.0 1722.5,1090.9 1722.8,1136.6 1723.1,1128.5 1723.4,1180.9 1723.8,1063.8 1724.1,1144.9 1724.4,1140.7 1724.7,1094.4 1725.1,1120.6 1725.4,1098.0 1725.7,1149.2 1726.0,1132.5 1726.4,1087.3 1726.7,1140.7 1727.0,1112.9 1727.3,1094.4 1727.7,1087.3 1728.0,1063.8 1728.3,1162.4 1728.7,1057.4 1729.0,1171.5 1729.3,1002.7 1729.6,1109.1 1730.0,1112.9 1730.3,1098.0 1730.6,1140.7 1730.9,1124.5 1731.3,1094.4 1731.6,1132.5 1731.9,1090.9 1732.2,1098.0 1732.6,1128.5 1732.9,1140.7 1733.2,1112.9 1733.5,1136.6 1733.9,1144.9 1734.2,1087.3 1734.5,1162.4 1734.8,1144.9 1735.2,1176.1 1735.5,1094.4 1735.8,1070.4 1736.1,1109.1 1736.5,1140.7 1736.8,1116.7 1737.1,1112.9 1737.4,1051.2 1737.8,1109.1 1738.1,1087.3 1738.4,1157.9 1738.7,1116.7 1739.1,1153.5 1739.4,1153.5 1739.7,1116.7 1740.0,1094.4 1740.4,1090.9 1740.7,1109.1 1741.0,1105.3 1741.3,1098.0 1741.7,1149.2 1742.0,1080.4 1742.3,1153.5 1742.6,1087.3 1743.0,1140.7 1743.3,1116.7 1743.6,1166.9 1743.9,1090.9 1744.3,1140.7 1744.6,1073.7 1744.9,1120.6 1745.2,1149.2 1745.6,1124.5 1745.9,1124.5 1746.2,1128.5 1746.5,1166.9 1746.9,1132.5 1747.2,1087.3 1747.5,1112.9 1747.8,1140.7 1748.2,1140.7 1748.5,1128.5 1748.8,1112.9 1749.1,1136.6 1749.5,1073.7 1749.8,1171.5 1750.1,1112.9 1750.4,1112.9 1750.8,1238.5 1751.1,1136.6 1751.4,1140.7 1751.8,1132.5 1752.1,1098.0 1752.4,1128.5 1752.7,1101.7 1753.1,1140.7 1753.4,1073.7 1753.7,1149.2 1754.0,1132.5 1754.4,1185.7 1754.7,1116.7 1755.0,1112.9 1755.3,1087.3 1755.7,1162.4 1756.0,1101.7 1756.3,1109.1 1756.6,1140.7 1757.0,1105.3 1757.3,1149.2 1757.6,1136.6 1757.9,1098.0 1758.3,1171.5 1758.6,1109.1 1758.9,1083.9 1759.2,1101.7 1759.6,1109.1 1759.9,1124.5 1760.2,1185.7 1760.5,1105.3 1760.9,1171.5 1761.2,1190.6 1761.5,1149.2 1761.8,1144.9 1762.2,1144.9 1762.5,1116.7 1762.8,1128.5 1763.1,1060.6 1763.5,1176.1 1763.8,1087.3 1764.1,1195.5 1764.4,1120.6 1764.8,1216.3 1765.1,1132.5 1765.4,1144.9 1765.7,1098.0 1766.1,1171.5 1766.4,1120.6 1766.7,1098.0 1767.0,1153.5 1767.4,1112.9 1767.7,1140.7 1768.0,1140.7 1768.3,1094.4 1768.7,1101.7 1769.0,1124.5 1769.3,1098.0 1769.6,1124.5 1770.0,1090.9 1770.3,1157.9 1770.6,1094.4 1770.9,1144.9 1771.3,1098.0 1771.6,1105.3 1771.9,1101.7 1772.2,1124.5 1772.6,1087.3 1772.9,1101.7 1773.2,1077.0 1773.6,1112.9 1773.9,1105.3 1774.2,1124.5 1774.5,1112.9 1774.9,1124.5 1775.2,1101.7 1775.5,1124.5 1775.8,1171.5 1776.2,1157.9 1776.5,1140.7 1776.8,1090.9 1777.1,1149.2 1777.5,1149.2 1777.8,1063.8 1778.1,1120.6 1778.4,1087.3 1778.8,1180.9 1779.1,1132.5 1779.4,1136.6 1779.7,1124.5 1780.1,1101.7 1780.4,1083.9 1780.7,1077.0 1781.0,1070.4 1781.4,1112.9 1781.7,1144.9 1782.0,1185.7 1782.3,1124.5 1782.7,1157.9 1783.0,1144.9 1783.3,1162.4 1783.6,1094.4 1784.0,1116.7 1784.3,1120.6 1784.6,1090.9 1784.9,1171.5 1785.3,1180.9 1785.6,1105.3 1785.9,1157.9 1786.2,1083.9 1786.6,1124.5 1786.9,1101.7 1787.2,1098.0 1787.5,1140.7 1787.9,1157.9 1788.2,1200.6 1788.5,1162.4 1788.8,1120.6 1789.2,1171.5 1789.5,1153.5 1789.8,1153.5 1790.1,1136.6 1790.5,1124.5 1790.8,1153.5 1791.1,1157.9 1791.4,1162.4 1791.8,1063.8 1792.0,1166.9" fill="none" stroke="#000" stroke-width="2.9" stroke-linejoin="round" stroke-linecap="round"/>
<path d="M503.7,298.3 506.0,312.3 508.3,326.2 510.7,340.0 513.0,353.7 515.3,367.3 517.6,380.8 520.0,394.2 522.3,407.5 524.6,420.7 526.9,433.8 529.3,446.8 531.6,459.7 533.9,472.4 536.2,485.0 538.6,497.5 540.9,509.8 543.2,522.0 545.5,534.1 547.9,546.0 550.2,557.8 552.5,569.5 554.8,580.9 557.2,592.2 559.5,603.4 561.8,614.4 564.1,625.2 566.4,635.9 568.8,646.4 571.1,656.7 573.4,666.8 575.7,676.8 578.1,686.6 580.4,696.2 582.7,705.6 585.0,714.8 587.4,723.8 589.7,732.7 592.0,741.4 594.3,749.8 596.7,758.1 599.0,766.2 601.3,774.1 603.6,781.9 606.0,789.4 608.3,796.8 610.6,803.9 612.9,810.9 615.3,817.7 617.6,824.3 619.9,830.8 622.2,837.0 624.5,843.1 626.9,849.1 629.2,854.8 631.5,860.4 633.8,865.8 636.2,871.1 638.5,876.2 640.8,881.2 643.1,886.0 645.5,890.6 647.8,895.1 650.1,899.5 652.4,903.7 654.8,907.8 657.1,911.8 659.4,915.7 661.7,919.4 664.1,923.0 666.4,926.5 668.7,929.9 671.0,933.1 673.4,936.3 675.7,939.4 678.0,942.3 680.3,945.2 682.6,948.0 685.0,950.7 687.3,953.3 689.6,955.8 691.9,958.3 694.3,960.6 696.6,962.9 698.9,965.1 701.2,967.3 703.6,969.4 705.9,971.4 708.2,973.4 710.5,975.3 712.9,977.1 715.2,978.9 717.5,980.7 719.8,982.4 722.2,984.0 724.5,985.6 726.8,987.2 729.1,988.7 731.5,990.2 733.8,991.6 736.1,993.0 738.4,994.4 740.7,995.7 743.1,997.0 745.4,998.3 747.7,999.5 750.0,1000.8 752.4,1001.9 754.7,1003.1 757.0,1004.2 759.3,1005.3 761.7,1006.4 764.0,1007.5 766.3,1008.5 768.6,1009.5 771.0,1010.5 773.3,1011.5 775.6,1012.4 777.9,1013.4 780.3,1014.3 782.6,1015.2 784.9,1016.1 787.2,1017.0 789.6,1017.8 791.9,1018.7 794.2,1019.5 796.5,1020.3 798.8,1021.2 801.2,1022.0 803.5,1022.7 805.8,1023.5 808.1,1024.3 810.5,1025.0 812.8,1025.8 815.1,1026.5 817.4,1027.2 819.8,1028.0 822.1,1028.7 824.4,1029.4 826.7,1030.1 829.1,1030.7 831.4,1031.4 833.7,1032.1 836.0,1032.7 838.4,1033.4 840.7,1034.0 843.0,1034.7 845.3,1035.3 847.7,1036.0 850.0,1036.6 852.3,1037.2 854.6,1037.8 856.9,1038.4 859.3,1039.0 861.6,1039.6 863.9,1040.2 866.2,1040.8 868.6,1041.4 870.9,1041.9 873.2,1042.5 875.5,1043.1 877.9,1043.6 880.2,1044.2 882.5,1044.8 884.8,1045.3 887.2,1045.9 889.5,1046.4 891.8,1046.9 894.1,1047.5 896.5,1048.0 898.8,1048.5 901.1,1049.0 903.4,1049.6 905.8,1050.1 908.1,1050.6 910.4,1051.1 912.7,1051.6 915.0,1052.1 917.4,1052.6 919.7,1053.1 922.0,1053.6 924.3,1054.1 926.7,1054.6 929.0,1055.1 931.3,1055.5 933.6,1056.0 936.0,1056.5 938.3,1057.0 940.6,1057.4 942.9,1057.9 945.3,1058.4 947.6,1058.8 949.9,1059.3 952.2,1059.7 954.6,1060.2 956.9,1060.6 959.2,1061.1 961.5,1061.5 963.9,1062.0 966.2,1062.4 968.5,1062.8 970.8,1063.3 973.1,1063.7 975.5,1064.1 977.8,1064.5 980.1,1065.0 982.4,1065.4 984.8,1065.8 987.1,1066.2 989.4,1066.6 991.7,1067.1 994.1,1067.5 996.4,1067.9 998.7,1068.3 1001.0,1068.7 1003.4,1069.1 1005.7,1069.5 1008.0,1069.9 1010.3,1070.3 1012.7,1070.6 1015.0,1071.0 1017.3,1071.4 1019.6,1071.8 1022.0,1072.2 1024.3,1072.6 1026.6,1072.9 1028.9,1073.3 1031.2,1073.7 1033.6,1074.1 1035.9,1074.4 1038.2,1074.8 1040.5,1075.2 1042.9,1075.5 1045.2,1075.9 1047.5,1076.2 1049.8,1076.6 1052.2,1077.0 1054.5,1077.3 1056.8,1077.7 1059.1,1078.0 1061.5,1078.3 1063.8,1078.7 1066.1,1079.0 1068.4,1079.4 1070.8,1079.7 1073.1,1080.0 1075.4,1080.4 1077.7,1080.7 1080.1,1081.0 1082.4,1081.4 1084.7,1081.7 1087.0,1082.0 1089.3,1082.3 1091.7,1082.7 1094.0,1083.0 1096.3,1083.3 1098.6,1083.6 1101.0,1083.9 1103.3,1084.2 1105.6,1084.5 1107.9,1084.9 1110.3,1085.2 1112.6,1085.5 1114.9,1085.8 1117.2,1086.1 1119.6,1086.4 1121.9,1086.7 1124.2,1087.0 1126.5,1087.3 1128.9,1087.5 1131.2,1087.8 1133.5,1088.1 1135.8,1088.4 1138.2,1088.7 1140.5,1089.0 1142.8,1089.3 1145.1,1089.5 1147.4,1089.8 1149.8,1090.1 1152.1,1090.4 1154.4,1090.6 1156.7,1090.9 1159.1,1091.2 1161.4,1091.5 1163.7,1091.7 1166.0,1092.0 1168.4,1092.3 1170.7,1092.5 1173.0,1092.8 1175.3,1093.0 1177.7,1093.3 1180.0,1093.6 1182.3,1093.8 1184.6,1094.1 1187.0,1094.3 1189.3,1094.6 1191.6,1094.8 1193.9,1095.1 1196.3,1095.3 1198.6,1095.5 1200.9,1095.8 1203.2,1096.0 1205.5,1096.3 1207.9,1096.5 1210.2,1096.7 1212.5,1097.0 1214.8,1097.2 1217.2,1097.4 1219.5,1097.7 1221.8,1097.9 1224.1,1098.1 1226.5,1098.4 1228.8,1098.6 1231.1,1098.8 1233.4,1099.0 1235.8,1099.3 1238.1,1099.5 1240.4,1099.7 1242.7,1099.9 1245.1,1100.1 1247.4,1100.3 1249.7,1100.6 1252.0,1100.8 1254.4,1101.0 1256.7,1101.2 1259.0,1101.4 1261.3,1101.6 1263.6,1101.8 1266.0,1102.0 1268.3,1102.2 1270.6,1102.4 1272.9,1102.6 1275.3,1102.8 1277.6,1103.0 1279.9,1103.2 1282.2,1103.4 1284.6,1103.6 1286.9,1103.8 1289.2,1104.0 1291.5,1104.2 1293.9,1104.4 1296.2,1104.6 1298.5,1104.7 1300.8,1104.9 1303.2,1105.1 1305.5,1105.3 1307.8,1105.5 1310.1,1105.7 1312.5,1105.8 1314.8,1106.0 1317.1,1106.2 1319.4,1106.4 1321.7,1106.6 1324.1,1106.7 1326.4,1106.9 1328.7,1107.1 1331.0,1107.2 1333.4,1107.4 1335.7,1107.6 1338.0,1107.8 1340.3,1107.9 1342.7,1108.1 1345.0,1108.3 1347.3,1108.4 1349.6,1108.6 1352.0,1108.7 1354.3,1108.9 1356.6,1109.1 1358.9,1109.2 1361.3,1109.4 1363.6,1109.5 1365.9,1109.7 1368.2,1109.9 1370.6,1110.0 1372.9,1110.2 1375.2,1110.3 1377.5,1110.5 1379.8,1110.6 1382.2,1110.8 1384.5,1110.9 1386.8,1111.1 1389.1,1111.2 1391.5,1111.4 1393.8,1111.5 1396.1,1111.6 1398.4,1111.8 1400.8,1111.9 1403.1,1112.1 1405.4,1112.2 1407.7,1112.3 1410.1,1112.5 1412.4,1112.6 1414.7,1112.8 1417.0,1112.9 1419.4,1113.0 1421.7,1113.2 1424.0,1113.3 1426.3,1113.4 1428.7,1113.6 1431.0,1113.7 1433.3,1113.8 1435.6,1114.0 1437.9,1114.1 1440.3,1114.2 1442.6,1114.3 1444.9,1114.5 1447.2,1114.6 1449.6,1114.7 1451.9,1114.8 1454.2,1115.0 1456.5,1115.1 1458.9,1115.2 1461.2,1115.3 1463.5,1115.4 1465.8,1115.6 1468.2,1115.7 1470.5,1115.8 1472.8,1115.9 1475.1,1116.0 1477.5,1116.1 1479.8,1116.2 1482.1,1116.4 1484.4,1116.5 1486.8,1116.6 1489.1,1116.7 1491.4,1116.8 1493.7,1116.9 1496.0,1117.0 1498.4,1117.1 1500.7,1117.2 1503.0,1117.4 1505.3,1117.5 1507.7,1117.6 1510.0,1117.7 1512.3,1117.8 1514.6,1117.9 1517.0,1118.0 1519.3,1118.1 1521.6,1118.2 1523.9,1118.3 1526.3,1118.4 1528.6,1118.5 1530.9,1118.6 1533.2,1118.7 1535.6,1118.8 1537.9,1118.9 1540.2,1119.0 1542.5,1119.1 1544.9,1119.2 1547.2,1119.3 1549.5,1119.3 1551.8,1119.4 1554.1,1119.5 1556.5,1119.6 1558.8,1119.7 1561.1,1119.8 1563.4,1119.9 1565.8,1120.0 1568.1,1120.1 1570.4,1120.2 1572.7,1120.3 1575.1,1120.3 1577.4,1120.4 1579.7,1120.5 1582.0,1120.6 1584.4,1120.7 1586.7,1120.8 1589.0,1120.9 1591.3,1120.9 1593.7,1121.0 1596.0,1121.1 1598.3,1121.2 1600.6,1121.3 1603.0,1121.3 1605.3,1121.4 1607.6,1121.5 1609.9,1121.6 1612.2,1121.7 1614.6,1121.7 1616.9,1121.8 1619.2,1121.9 1621.5,1122.0 1623.9,1122.0 1626.2,1122.1 1628.5,1122.2 1630.8,1122.3 1633.2,1122.3 1635.5,1122.4 1637.8,1122.5 1640.1,1122.6 1642.5,1122.6 1644.8,1122.7 1647.1,1122.8 1649.4,1122.9 1651.8,1122.9 1654.1,1123.0 1656.4,1123.1 1658.7,1123.1 1661.1,1123.2 1663.4,1123.3 1665.7,1123.3 1668.0,1123.4 1670.3,1123.5 1672.7,1123.5 1675.0,1123.6 1677.3,1123.7 1679.6,1123.7 1682.0,1123.8 1684.3,1123.9 1686.6,1123.9 1688.9,1124.0 1691.3,1124.0 1693.6,1124.1 1695.9,1124.2 1698.2,1124.2 1700.6,1124.3 1702.9,1124.4 1705.2,1124.4 1707.5,1124.5 1709.9,1124.5 1712.2,1124.6 1714.5,1124.7 1716.8,1124.7 1719.2,1124.8 1721.5,1124.8 1723.8,1124.9 1726.1,1124.9 1728.4,1125.0 1730.8,1125.1 1733.1,1125.1 1735.4,1125.2 1737.7,1125.2 1740.1,1125.3 1742.4,1125.3 1744.7,1125.4 1747.0,1125.4 1749.4,1125.5 1751.7,1125.5 1754.0,1125.6 1756.3,1125.6 1758.7,1125.7 1761.0,1125.7 1763.3,1125.8 1765.6,1125.9 1768.0,1125.9 1770.3,1126.0 1772.6,1126.0 1774.9,1126.1 1777.3,1126.1 1779.6,1126.1 1781.9,1126.2 1784.2,1126.2 1786.5,1126.3 1788.9,1126.3 1792.0,1126.4" fill="none" stroke="#00ff00" stroke-width="5"/>
<path d="M503.7,240.5 506.0,249.0 508.3,257.5 510.7,265.9 513.0,274.2 515.3,282.6 517.6,290.9 520.0,299.2 522.3,307.5 524.6,315.7 526.9,323.9 529.3,332.1 531.6,340.2 533.9,348.3 536.2,356.3 538.6,364.4 540.9,372.3 543.2,380.3 545.5,388.2 547.9,396.0 550.2,403.9 552.5,411.6 554.8,419.4 557.2,427.1 559.5,434.7 561.8,442.3 564.1,449.9 566.4,457.4 568.8,464.8 571.1,472.3 573.4,479.6 575.7,486.9 578.1,494.2 580.4,501.4 582.7,508.6 585.0,515.7 587.4,522.7 589.7,529.7 592.0,536.6 594.3,543.5 596.7,550.3 599.0,557.1 601.3,563.8 603.6,570.4 606.0,577.0 608.3,583.5 610.6,590.0 612.9,596.4 615.3,602.7 617.6,609.0 619.9,615.2 622.2,621.3 624.5,627.4 626.9,633.4 629.2,639.3 631.5,645.2 633.8,651.0 636.2,656.7 638.5,662.4 640.8,668.0 643.1,673.5 645.5,678.9 647.8,684.3 650.1,689.6 652.4,694.9 654.8,700.0 657.1,705.1 659.4,710.1 661.7,715.1 664.1,720.0 666.4,724.8 668.7,729.5 671.0,734.2 673.4,738.8 675.7,743.3 678.0,747.7 680.3,752.1 682.6,756.4 685.0,760.6 687.3,764.8 689.6,768.9 691.9,772.9 694.3,776.9 696.6,780.7 698.9,784.6 701.2,788.3 703.6,792.0 705.9,795.6 708.2,799.1 710.5,802.6 712.9,806.0 715.2,809.4 717.5,812.6 719.8,815.9 722.2,819.0 724.5,822.1 726.8,825.1 729.1,828.1 731.5,831.0 733.8,833.8 736.1,836.6 738.4,839.4 740.7,842.0 743.1,844.7 745.4,847.2 747.7,849.7 750.0,852.2 752.4,854.6 754.7,856.9 757.0,859.2 759.3,861.4 761.7,863.6 764.0,865.8 766.3,867.9 768.6,869.9 771.0,871.9 773.3,873.9 775.6,875.8 777.9,877.7 780.3,879.5 782.6,881.3 784.9,883.0 787.2,884.7 789.6,886.4 791.9,888.0 794.2,889.6 796.5,891.1 798.8,892.6 801.2,894.1 803.5,895.6 805.8,897.0 808.1,898.3 810.5,899.7 812.8,901.0 815.1,902.3 817.4,903.5 819.8,904.7 822.1,905.9 824.4,907.1 826.7,908.2 829.1,909.3 831.4,910.4 833.7,911.4 836.0,912.5 838.4,913.5 840.7,914.4 843.0,915.4 845.3,916.3 847.7,917.2 850.0,918.1 852.3,919.0 854.6,919.8 856.9,920.7 859.3,921.5 861.6,922.3 863.9,923.0 866.2,923.8 868.6,924.5 870.9,925.3 873.2,926.0 875.5,926.6 877.9,927.3 880.2,928.0 882.5,928.6 884.8,929.2 887.2,929.8 889.5,930.4 891.8,931.0 894.1,931.6 896.5,932.2 898.8,932.7 901.1,933.3 903.4,933.8 905.8,934.3 908.1,934.8 910.4,935.3 912.7,935.8 915.0,936.2 917.4,936.7 919.7,937.2 922.0,937.6 924.3,938.0 926.7,938.5 929.0,938.9 931.3,939.3 933.6,939.7 936.0,940.1 938.3,940.5 940.6,940.9 942.9,941.2 945.3,941.6 947.6,942.0 949.9,942.3 952.2,942.7 954.6,943.0 956.9,943.3 959.2,943.7 961.5,944.0 963.9,944.3 966.2,944.6 968.5,944.9 970.8,945.2 973.1,945.5 975.5,945.8 977.8,946.1 980.1,946.4 982.4,946.7 984.8,946.9 987.1,947.2 989.4,947.5 991.7,947.7 994.1,948.0 996.4,948.3 998.7,948.5 1001.0,948.8 1003.4,949.0 1005.7,949.2 1008.0,949.5 1010.3,949.7 1012.7,950.0 1015.0,950.2 1017.3,950.4 1019.6,950.7 1022.0,950.9 1024.3,951.1 1026.6,951.3 1028.9,951.5 1031.2,951.7 1033.6,952.0 1035.9,952.2 1038.2,952.4 1040.5,952.6 1042.9,952.8 1045.2,953.0 1047.5,953.2 1049.8,953.4 1052.2,953.6 1054.5,953.8 1056.8,954.0 1059.1,954.2 1061.5,954.4 1063.8,954.5 1066.1,954.7 1068.4,954.9 1070.8,955.1 1073.1,955.3 1075.4,955.5 1077.7,955.7 1080.1,955.8 1082.4,956.0 1084.7,956.2 1087.0,956.4 1089.3,956.5 1091.7,956.7 1094.0,956.9 1096.3,957.1 1098.6,957.2 1101.0,957.4 1103.3,957.6 1105.6,957.7 1107.9,957.9 1110.3,958.1 1112.6,958.2 1114.9,958.4 1117.2,958.6 1119.6,958.7 1121.9,958.9 1124.2,959.1 1126.5,959.2 1128.9,959.4 1131.2,959.5 1133.5,959.7 1135.8,959.9 1138.2,960.0 1140.5,960.2 1142.8,960.3 1145.1,960.5 1147.4,960.7 1149.8,960.8 1152.1,961.0 1154.4,961.1 1156.7,961.3 1159.1,961.4 1161.4,961.6 1163.7,961.7 1166.0,961.9 1168.4,962.0 1170.7,962.2 1173.0,962.4 1175.3,962.5 1177.7,962.7 1180.0,962.8 1182.3,963.0 1184.6,963.1 1187.0,963.3 1189.3,963.4 1191.6,963.6 1193.9,963.7 1196.3,963.9 1198.6,964.0 1200.9,964.2 1203.2,964.3 1205.5,964.5 1207.9,964.6 1210.2,964.7 1212.5,964.9 1214.8,965.0 1217.2,965.2 1219.5,965.3 1221.8,965.5 1224.1,965.6 1226.5,965.8 1228.8,965.9 1231.1,966.1 1233.4,966.2 1235.8,966.4 1238.1,966.5 1240.4,966.6 1242.7,966.8 1245.1,966.9 1247.4,967.1 1249.7,967.2 1252.0,967.4 1254.4,967.5 1256.7,967.7 1259.0,967.8 1261.3,967.9 1263.6,968.1 1266.0,968.2 1268.3,968.4 1270.6,968.5 1272.9,968.7 1275.3,968.8 1277.6,969.0 1279.9,969.1 1282.2,969.2 1284.6,969.4 1286.9,969.5 1289.2,969.7 1291.5,969.8 1293.9,970.0 1296.2,970.1 1298.5,970.2 1300.8,970.4 1303.2,970.5 1305.5,970.7 1307.8,970.8 1310.1,970.9 1312.5,971.1 1314.8,971.2 1317.1,971.4 1319.4,971.5 1321.7,971.7 1324.1,971.8 1326.4,971.9 1328.7,972.1 1331.0,972.2 1333.4,972.4 1335.7,972.5 1338.0,972.6 1340.3,972.8 1342.7,972.9 1345.0,973.1 1347.3,973.2 1349.6,973.3 1352.0,973.5 1354.3,973.6 1356.6,973.8 1358.9,973.9 1361.3,974.0 1363.6,974.2 1365.9,974.3 1368.2,974.5 1370.6,974.6 1372.9,974.7 1375.2,974.9 1377.5,975.0 1379.8,975.2 1382.2,975.3 1384.5,975.4 1386.8,975.6 1389.1,975.7 1391.5,975.9 1393.8,976.0 1396.1,976.1 1398.4,976.3 1400.8,976.4 1403.1,976.6 1405.4,976.7 1407.7,976.8 1410.1,977.0 1412.4,977.1 1414.7,977.3 1417.0,977.4 1419.4,977.5 1421.7,977.7 1424.0,977.8 1426.3,978.0 1428.7,978.1 1431.0,978.2 1433.3,978.4 1435.6,978.5 1437.9,978.7 1440.3,978.8 1442.6,978.9 1444.9,979.1 1447.2,979.2 1449.6,979.4 1451.9,979.5 1454.2,979.6 1456.5,979.8 1458.9,979.9 1461.2,980.0 1463.5,980.2 1465.8,980.3 1468.2,980.5 1470.5,980.6 1472.8,980.7 1475.1,980.9 1477.5,981.0 1479.8,981.2 1482.1,981.3 1484.4,981.4 1486.8,981.6 1489.1,981.7 1491.4,981.8 1493.7,982.0 1496.0,982.1 1498.4,982.3 1500.7,982.4 1503.0,982.5 1505.3,982.7 1507.7,982.8 1510.0,983.0 1512.3,983.1 1514.6,983.2 1517.0,983.4 1519.3,983.5 1521.6,983.6 1523.9,983.8 1526.3,983.9 1528.6,984.1 1530.9,984.2 1533.2,984.3 1535.6,984.5 1537.9,984.6 1540.2,984.7 1542.5,984.9 1544.9,985.0 1547.2,985.2 1549.5,985.3 1551.8,985.4 1554.1,985.6 1556.5,985.7 1558.8,985.8 1561.1,986.0 1563.4,986.1 1565.8,986.3 1568.1,986.4 1570.4,986.5 1572.7,986.7 1575.1,986.8 1577.4,986.9 1579.7,987.1 1582.0,987.2 1584.4,987.4 1586.7,987.5 1589.0,987.6 1591.3,987.8 1593.7,987.9 1596.0,988.0 1598.3,988.2 1600.6,988.3 1603.0,988.5 1605.3,988.6 1607.6,988.7 1609.9,988.9 1612.2,989.0 1614.6,989.1 1616.9,989.3 1619.2,989.4 1621.5,989.6 1623.9,989.7 1626.2,989.8 1628.5,990.0 1630.8,990.1 1633.2,990.2 1635.5,990.4 1637.8,990.5 1640.1,990.6 1642.5,990.8 1644.8,990.9 1647.1,991.1 1649.4,991.2 1651.8,991.3 1654.1,991.5 1656.4,991.6 1658.7,991.7 1661.1,991.9 1663.4,992.0 1665.7,992.1 1668.0,992.3 1670.3,992.4 1672.7,992.6 1675.0,992.7 1677.3,992.8 1679.6,993.0 1682.0,993.1 1684.3,993.2 1686.6,993.4 1688.9,993.5 1691.3,993.6 1693.6,993.8 1695.9,993.9 1698.2,994.1 1700.6,994.2 1702.9,994.3 1705.2,994.5 1707.5,994.6 1709.9,994.7 1712.2,994.9 1714.5,995.0 1716.8,995.1 1719.2,995.3 1721.5,995.4 1723.8,995.6 1726.1,995.7 1728.4,995.8 1730.8,996.0 1733.1,996.1 1735.4,996.2 1737.7,996.4 1740.1,996.5 1742.4,996.6 1744.7,996.8 1747.0,996.9 1749.4,997.0 1751.7,997.2 1754.0,997.3 1756.3,997.5 1758.7,997.6 1761.0,997.7 1763.3,997.9 1765.6,998.0 1768.0,998.1 1770.3,998.3 1772.6,998.4 1774.9,998.5 1777.3,998.7 1779.6,998.8 1781.9,998.9 1784.2,999.1 1786.5,999.2 1788.9,999.3 1792.0,999.5" fill="none" stroke="#ff0000" stroke-width="5"/>
<rect x="281.4" y="32.4" width="1626.90" height="1274.75" fill="none" stroke="#000" stroke-width="4.9"/>
<path d="M281.4,173.50H306.9M281.4,865.40H306.9M281.4,205.16H293.9M281.4,240.55H293.9M281.4,280.68H293.9M281.4,327.00H293.9M281.4,381.78H293.9M281.4,448.83H293.9M281.4,535.28H293.9M281.4,657.12H293.9M281.4,897.06H293.9M281.4,932.45H293.9M281.4,972.58H293.9M281.4,1018.90H293.9M281.4,1073.68H293.9M281.4,1140.73H293.9M281.4,1227.18H293.9M397.55,1307.15V1281.65M629.95,1307.15V1281.65M862.35,1307.15V1281.65M1094.75,1307.15V1281.65M1327.15,1307.15V1281.65M1559.55,1307.15V1281.65M1791.95,1307.15V1281.65M513.75,1307.15V1294.65M746.15,1307.15V1294.65M978.55,1307.15V1294.65M1210.95,1307.15V1294.65M1443.35,1307.15V1294.65M1675.75,1307.15V1294.65" fill="none" stroke="#000" stroke-width="4.8"/>
<g font-size="74">
<text transform="translate(397.6,1393.2) scale(1,1.04)" text-anchor="middle">0</text>
<text transform="translate(630.0,1393.2) scale(1,1.04)" text-anchor="middle">2</text>
<text transform="translate(862.4,1393.2) scale(1,1.04)" text-anchor="middle">4</text>
<text transform="translate(1094.8,1393.2) scale(1,1.04)" text-anchor="middle">6</text>
<text transform="translate(1327.2,1393.2) scale(1,1.04)" text-anchor="middle">8</text>
<text transform="translate(1559.5,1393.2) scale(1,1.04)" text-anchor="middle">10</text>
<text transform="translate(1792.0,1393.2) scale(1,1.04)" text-anchor="middle">12</text>
<text transform="translate(253.6,195.8) scale(1,1.04)" text-anchor="end">1</text>
<text transform="translate(253.6,888) scale(1,1.04)" text-anchor="end">0.1</text>
</g>
<text x="897.4" y="1475" font-size="86.5">t [ns]</text>
<text transform="translate(93,956.4) rotate(-90)" font-size="86.5">Normalized counts</text>
<text x="624" y="103.2" font-size="61.5">GaAs cone-shell QDs</text>
<path d="M625.1,165.5H763.1" stroke="#00ff00" stroke-width="5"/>
<path d="M625.1,262.2H763.1" stroke="#ff0000" stroke-width="5"/>
<text x="779.9" y="186.2" font-size="61.5">h<tspan font-size="41.5" dy="16.3">QD</tspan><tspan dy="-16.3"> = 4.6 nm, </tspan><tspan class="ser" dx="1">τ</tspan><tspan font-size="41.5" dy="16.3" dx="2.4">F</tspan><tspan dy="-16.3"> = 0.361 ns<tspan class="ser">,</tspan> </tspan><tspan class="ser" dx="0.6">τ</tspan><tspan font-size="41.5" dy="16.3" dx="1.6">S</tspan><tspan dy="-16.3"> = 2.60 ns</tspan></text>
<text x="779.9" y="283" font-size="61.5">h<tspan font-size="41.5" dy="16.3">QD</tspan><tspan dy="-16.3"> = 7.8 nm, </tspan><tspan class="ser" dx="1">τ</tspan><tspan font-size="41.5" dy="16.3" dx="2.4">F</tspan><tspan dy="-16.3"> = 0.582 ns, </tspan><tspan class="ser" dx="1.0">τ</tspan><tspan font-size="41.5" dy="16.3" dx="1.6">S</tspan><tspan dy="-16.3"> = 6.64 ns</tspan></text>
</svg></body></html>
